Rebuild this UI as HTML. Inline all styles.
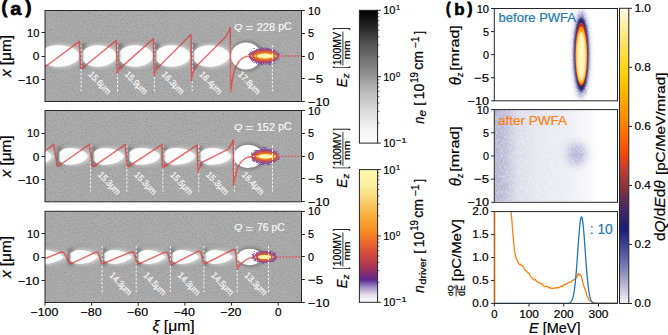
<!DOCTYPE html><html><head><meta charset="utf-8"><style>html,body{margin:0;padding:0;background:#fff;overflow:hidden}svg{display:block}text{font-family:"Liberation Sans",sans-serif}</style></head><body><svg width="668" height="335" viewBox="0 0 668 335" font-family="Liberation Sans, sans-serif">
<defs>
<filter id="noise" x="0" y="0" width="100%" height="100%"><feTurbulence type="fractalNoise" baseFrequency="0.65" numOctaves="1" seed="7" result="n"/><feColorMatrix in="n" type="matrix" values="2 0 0 0 -0.5  2 0 0 0 -0.5  2 0 0 0 -0.5  0 0 0 0 1"/><feComposite in2="SourceGraphic" operator="in"/></filter>
<filter id="b0_4" x="-60%" y="-60%" width="220%" height="220%"><feGaussianBlur stdDeviation="0.4"/></filter>
<filter id="b0_6" x="-60%" y="-60%" width="220%" height="220%"><feGaussianBlur stdDeviation="0.6"/></filter>
<filter id="b0_8" x="-60%" y="-60%" width="220%" height="220%"><feGaussianBlur stdDeviation="0.8"/></filter>
<filter id="b1_0" x="-60%" y="-60%" width="220%" height="220%"><feGaussianBlur stdDeviation="1.0"/></filter>
<filter id="b1_2" x="-60%" y="-60%" width="220%" height="220%"><feGaussianBlur stdDeviation="1.2"/></filter>
<filter id="b1_6" x="-60%" y="-60%" width="220%" height="220%"><feGaussianBlur stdDeviation="1.6"/></filter>
<filter id="b2_0" x="-60%" y="-60%" width="220%" height="220%"><feGaussianBlur stdDeviation="2.0"/></filter>
<filter id="b2_5" x="-60%" y="-60%" width="220%" height="220%"><feGaussianBlur stdDeviation="2.5"/></filter>
<filter id="b3_0" x="-60%" y="-60%" width="220%" height="220%"><feGaussianBlur stdDeviation="3.0"/></filter>
<filter id="b4_0" x="-60%" y="-60%" width="220%" height="220%"><feGaussianBlur stdDeviation="4.0"/></filter>
<filter id="spiky" x="-30%" y="-60%" width="160%" height="220%"><feTurbulence type="turbulence" baseFrequency="0.9" numOctaves="2" seed="5" result="t"/><feDisplacementMap in="SourceGraphic" in2="t" scale="4.5" xChannelSelector="R" yChannelSelector="G" result="d"/><feGaussianBlur in="d" stdDeviation="0.5"/></filter>
<clipPath id="clipa0"><rect x="45.0" y="10.5" width="256.5" height="91.2"/></clipPath>
<clipPath id="clipb0"><rect x="494.3" y="8.5" width="123.19999999999999" height="92.0"/></clipPath>
<clipPath id="clipa1"><rect x="45.0" y="110.5" width="256.5" height="91.2"/></clipPath>
<clipPath id="clipb1"><rect x="494.3" y="109.6" width="123.19999999999999" height="92.0"/></clipPath>
<clipPath id="clipa2"><rect x="45.0" y="211.3" width="256.5" height="91.2"/></clipPath>
<clipPath id="clipb2"><rect x="494.3" y="211.6" width="123.19999999999999" height="92.0"/></clipPath>
<radialGradient id="bub" cx="0.42" cy="0.5" r="0.5" fx="0.35" fy="0.5"><stop offset="0" stop-color="#ffffff"/><stop offset="0.55" stop-color="#fdfdfd"/><stop offset="0.8" stop-color="#eeeeee"/><stop offset="1" stop-color="#c8c8c8" stop-opacity="0"/></radialGradient>
</defs>
<rect width="668" height="335" fill="#fff"/>
<g clip-path="url(#clipa0)">
<rect x="45.0" y="10.5" width="256.5" height="91.0" fill="#a6a6a6"/>
<rect x="45.0" y="10.5" width="256.5" height="91.0" fill="#ffffff" filter="url(#noise)" opacity="0.10"/>
<path d="M39.0,56.0 C39.0,46.8 47.6,41.2 58.1,41.2 C71.0,41.2 81.5,49.3 81.5,56.0 C81.5,62.7 71.0,70.8 58.1,70.8 C47.6,70.8 39.0,65.2 39.0,56.0 Z" fill="#7e7e7e" filter="url(#b2_0)" opacity="0.5"/>
<ellipse cx="42.0" cy="47.3" rx="3" ry="4.1" fill="#505050" filter="url(#b1_6)" opacity="0.6"/>
<ellipse cx="42.0" cy="64.7" rx="3" ry="4.1" fill="#505050" filter="url(#b1_6)" opacity="0.6"/>
<path d="M80.5,56.0 C80.5,46.8 88.1,41.2 97.4,41.2 C108.7,41.2 118.0,49.3 118.0,56.0 C118.0,62.7 108.7,70.8 97.4,70.8 C88.1,70.8 80.5,65.2 80.5,56.0 Z" fill="#7e7e7e" filter="url(#b2_0)" opacity="0.5"/>
<ellipse cx="83.5" cy="47.3" rx="3" ry="4.1" fill="#505050" filter="url(#b1_6)" opacity="0.6"/>
<ellipse cx="83.5" cy="64.7" rx="3" ry="4.1" fill="#505050" filter="url(#b1_6)" opacity="0.6"/>
<path d="M117.5,56.0 C117.5,46.8 125.1,41.2 134.4,41.2 C145.7,41.2 155.0,49.3 155.0,56.0 C155.0,62.7 145.7,70.8 134.4,70.8 C125.1,70.8 117.5,65.2 117.5,56.0 Z" fill="#7e7e7e" filter="url(#b2_0)" opacity="0.5"/>
<ellipse cx="120.5" cy="47.3" rx="3" ry="4.1" fill="#505050" filter="url(#b1_6)" opacity="0.6"/>
<ellipse cx="120.5" cy="64.7" rx="3" ry="4.1" fill="#505050" filter="url(#b1_6)" opacity="0.6"/>
<path d="M154.0,56.0 C154.0,46.8 161.7,41.2 171.2,41.2 C182.7,41.2 192.2,49.3 192.2,56.0 C192.2,62.7 182.7,70.8 171.2,70.8 C161.7,70.8 154.0,65.2 154.0,56.0 Z" fill="#7e7e7e" filter="url(#b2_0)" opacity="0.5"/>
<ellipse cx="157.0" cy="47.3" rx="3" ry="4.1" fill="#505050" filter="url(#b1_6)" opacity="0.6"/>
<ellipse cx="157.0" cy="64.7" rx="3" ry="4.1" fill="#505050" filter="url(#b1_6)" opacity="0.6"/>
<path d="M191.5,56.0 C191.5,46.8 199.6,41.2 209.4,41.2 C221.4,41.2 231.3,49.3 231.3,56.0 C231.3,62.7 221.4,70.8 209.4,70.8 C199.6,70.8 191.5,65.2 191.5,56.0 Z" fill="#7e7e7e" filter="url(#b2_0)" opacity="0.5"/>
<ellipse cx="194.5" cy="47.3" rx="3" ry="4.1" fill="#505050" filter="url(#b1_6)" opacity="0.6"/>
<ellipse cx="194.5" cy="64.7" rx="3" ry="4.1" fill="#505050" filter="url(#b1_6)" opacity="0.6"/>
<ellipse cx="247.0" cy="56.0" rx="17.0" ry="15.5" fill="#6a6a6a" filter="url(#b1_6)" opacity="0.6"/>
<line x1="45.0" y1="56.0" x2="249" y2="56.0" stroke="#f0f0f0" stroke-width="1.1" stroke-dasharray="1.2,1.6" opacity="0.8"/>
<path d="M41.0,56.0 C41.0,48.4 49.4,43.8 59.7,43.8 C72.2,43.8 82.5,50.5 82.5,56.0 C82.5,61.5 72.2,68.2 59.7,68.2 C49.4,68.2 41.0,63.6 41.0,56.0 Z" fill="#e2e2e2" filter="url(#b2_5)"/>
<path d="M40.3,56.0 C40.3,49.4 48.3,45.3 58.0,45.3 C69.9,45.3 79.7,50.7 79.7,56.0 C79.7,61.3 69.9,66.7 58.0,66.7 C48.3,66.7 40.3,62.6 40.3,56.0 Z" fill="#fcfcfc" filter="url(#b1_1)"/>
<ellipse cx="39.8" cy="56.0" rx="1.5" ry="5.8" fill="#3a3a3a" filter="url(#b0_8)" opacity="0.65"/>
<path d="M82.5,56.0 C82.5,48.4 89.9,43.8 98.9,43.8 C110.0,43.8 119.0,50.5 119.0,56.0 C119.0,61.5 110.0,68.2 98.9,68.2 C89.9,68.2 82.5,63.6 82.5,56.0 Z" fill="#e2e2e2" filter="url(#b2_5)"/>
<path d="M81.8,56.0 C81.8,49.4 88.8,45.3 97.3,45.3 C107.7,45.3 116.2,50.7 116.2,56.0 C116.2,61.3 107.7,66.7 97.3,66.7 C88.8,66.7 81.8,62.6 81.8,56.0 Z" fill="#fcfcfc" filter="url(#b1_1)"/>
<ellipse cx="81.3" cy="56.0" rx="1.5" ry="5.8" fill="#3a3a3a" filter="url(#b0_8)" opacity="0.65"/>
<path d="M119.5,56.0 C119.5,48.4 126.9,43.8 135.9,43.8 C147.0,43.8 156.0,50.5 156.0,56.0 C156.0,61.5 147.0,68.2 135.9,68.2 C126.9,68.2 119.5,63.6 119.5,56.0 Z" fill="#e2e2e2" filter="url(#b2_5)"/>
<path d="M118.8,56.0 C118.8,49.4 125.8,45.3 134.3,45.3 C144.7,45.3 153.2,50.7 153.2,56.0 C153.2,61.3 144.7,66.7 134.3,66.7 C125.8,66.7 118.8,62.6 118.8,56.0 Z" fill="#fcfcfc" filter="url(#b1_1)"/>
<ellipse cx="118.3" cy="56.0" rx="1.5" ry="5.8" fill="#3a3a3a" filter="url(#b0_8)" opacity="0.65"/>
<path d="M156.0,56.0 C156.0,48.4 163.5,43.8 172.7,43.8 C184.0,43.8 193.2,50.5 193.2,56.0 C193.2,61.5 184.0,68.2 172.7,68.2 C163.5,68.2 156.0,63.6 156.0,56.0 Z" fill="#e2e2e2" filter="url(#b2_5)"/>
<path d="M155.3,56.0 C155.3,49.4 162.4,45.3 171.1,45.3 C181.7,45.3 190.4,50.7 190.4,56.0 C190.4,61.3 181.7,66.7 171.1,66.7 C162.4,66.7 155.3,62.6 155.3,56.0 Z" fill="#fcfcfc" filter="url(#b1_1)"/>
<ellipse cx="154.8" cy="56.0" rx="1.5" ry="5.8" fill="#3a3a3a" filter="url(#b0_8)" opacity="0.65"/>
<path d="M193.5,56.0 C193.5,48.4 201.4,43.8 211.0,43.8 C222.7,43.8 232.3,50.5 232.3,56.0 C232.3,61.5 222.7,68.2 211.0,68.2 C201.4,68.2 193.5,63.6 193.5,56.0 Z" fill="#e2e2e2" filter="url(#b2_5)"/>
<path d="M192.8,56.0 C192.8,49.4 200.2,45.3 209.3,45.3 C220.4,45.3 229.5,50.7 229.5,56.0 C229.5,61.3 220.4,66.7 209.3,66.7 C200.2,66.7 192.8,62.6 192.8,56.0 Z" fill="#fcfcfc" filter="url(#b1_1)"/>
<ellipse cx="192.3" cy="56.0" rx="1.5" ry="5.8" fill="#3a3a3a" filter="url(#b0_8)" opacity="0.65"/>
<ellipse cx="246.0" cy="56.0" rx="15.0" ry="13.5" fill="#ffffff" filter="url(#b0_6)"/>
<ellipse cx="262.8" cy="54.8" rx="15.0" ry="8.6" fill="#7a48a8" filter="url(#spiky)" opacity="0.85"/>
<ellipse cx="263.9" cy="56.0" rx="13.8" ry="6.2" fill="#c83c3c" filter="url(#b0_8)"/>
<ellipse cx="264.9" cy="56.0" rx="11.8" ry="4.3" fill="#f08a20" filter="url(#b0_8)"/>
<ellipse cx="265.0" cy="56.0" rx="8.0" ry="2.6" fill="#fcf2a0" filter="url(#b0_6)"/>
<line x1="251" y1="56.0" x2="277" y2="56.0" stroke="#fff" stroke-width="1.1" stroke-dasharray="1.5,2" opacity="0.9"/>
<line x1="278" y1="56.0" x2="301.5" y2="56.0" stroke="#e0505a" stroke-width="1.3" stroke-dasharray="2,1.2" opacity="0.85"/>
<line x1="81.1" y1="45.0" x2="81.1" y2="91.5" stroke="#f4f4f4" stroke-width="1" stroke-dasharray="2.4,1.6"/>
<line x1="117.5" y1="45.0" x2="117.5" y2="91.5" stroke="#f4f4f4" stroke-width="1" stroke-dasharray="2.4,1.6"/>
<line x1="154.4" y1="45.0" x2="154.4" y2="91.5" stroke="#f4f4f4" stroke-width="1" stroke-dasharray="2.4,1.6"/>
<line x1="192.2" y1="45.0" x2="192.2" y2="91.5" stroke="#f4f4f4" stroke-width="1" stroke-dasharray="2.4,1.6"/>
<line x1="230.6" y1="45.0" x2="230.6" y2="91.5" stroke="#f4f4f4" stroke-width="1" stroke-dasharray="2.4,1.6"/>
<line x1="272.4" y1="45.0" x2="272.4" y2="91.5" stroke="#f4f4f4" stroke-width="1" stroke-dasharray="2.4,1.6"/>
<text transform="translate(87.9,74.8) rotate(46) scale(0.93,1)" font-size="9.0" fill="#f4f4f4" stroke="#f4f4f4" stroke-width="0.25">15.6μm</text>
<text transform="translate(124.3,74.8) rotate(46) scale(0.93,1)" font-size="9.0" fill="#f4f4f4" stroke="#f4f4f4" stroke-width="0.25">15.9μm</text>
<text transform="translate(161.2,74.8) rotate(46) scale(0.93,1)" font-size="9.0" fill="#f4f4f4" stroke="#f4f4f4" stroke-width="0.25">16.3μm</text>
<text transform="translate(199.0,74.8) rotate(46) scale(0.93,1)" font-size="9.0" fill="#f4f4f4" stroke="#f4f4f4" stroke-width="0.25">16.4μm</text>
<text transform="translate(237.4,74.8) rotate(46) scale(0.93,1)" font-size="9.0" fill="#f4f4f4" stroke="#f4f4f4" stroke-width="0.25">17.8μm</text>
<path d="M44,67.6 L79.4,41.3 L80.6,68.2 L81.8,68.5 L116.4,40.3 L117.4,73.2 L118.60000000000001,69.6 L153.4,38.6 L154.3,76.0 L155.5,70.0 L191.0,34.5 L191.6,81.0 L192.8,73.0 L195.1,67.5 L225.8,36.7 L228.8,31.2 L230.3,27.7 L230.6,92.4 M230.9,90.4 C233.6,62.0 240.6,56.5 250,56.0" fill="none" stroke="#e03434" stroke-width="1.5" stroke-linejoin="round" opacity="0.7"/>
<text transform="translate(234.00,29.51) scale(1.141,1)" x="-0.00" y="0" font-size="9.44" font-weight="normal" font-style="italic" fill="#f6f6f6" stroke="#f6f6f6" stroke-width="0.2" >Q</text>
<rect x="245.9" y="26.10" width="6.9" height="0.95" fill="#f6f6f6"/><rect x="245.9" y="28.90" width="6.9" height="0.95" fill="#f6f6f6"/>
<text transform="translate(256.70,30.69) scale(0.985,1)" x="-0.00" y="0" font-size="11.13" font-weight="normal" font-style="normal" fill="#f6f6f6" stroke="#f6f6f6" stroke-width="0.2" >228</text>
<text transform="translate(278.20,30.36) scale(0.997,1)" x="-0.00" y="0" font-size="10.66" font-weight="normal" font-style="normal" fill="#f6f6f6" stroke="#f6f6f6" stroke-width="0.2" >pC</text>
</g>
<rect x="45.00" y="10.50" width="256.50" height="91.00" fill="none" stroke="#262626" stroke-width="1"/>
<line x1="41.60" y1="32.50" x2="45.00" y2="32.50" stroke="#262626" stroke-width="1"/>
<text transform="translate(27.10,36.84) scale(0.965,1)" x="-0.00" y="0" font-size="11.48" font-weight="normal" font-style="normal" fill="#000" stroke="#000" stroke-width="0.2" >10</text>
<line x1="41.60" y1="56.50" x2="45.00" y2="56.50" stroke="#262626" stroke-width="1"/>
<text transform="translate(32.80,60.24) scale(1.036,1)" x="-0.00" y="0" font-size="11.48" font-weight="normal" font-style="normal" fill="#000" stroke="#000" stroke-width="0.2" >0</text>
<line x1="41.60" y1="79.50" x2="45.00" y2="79.50" stroke="#262626" stroke-width="1"/>
<text transform="translate(17.90,83.64) scale(1.105,1)" x="-0.00" y="0" font-size="11.48" font-weight="normal" font-style="normal" fill="#000" stroke="#000" stroke-width="0.2" >−10</text>
<line x1="301.50" y1="10.50" x2="304.90" y2="10.50" stroke="#262626" stroke-width="1"/>
<text transform="translate(308.10,14.64) scale(0.965,1)" x="-0.00" y="0" font-size="11.48" font-weight="normal" font-style="normal" fill="#000" stroke="#000" stroke-width="0.2" >10</text>
<line x1="301.50" y1="33.50" x2="304.90" y2="33.50" stroke="#262626" stroke-width="1"/>
<text transform="translate(308.10,37.38) scale(0.929,1)" x="-0.00" y="0" font-size="11.64" font-weight="normal" font-style="normal" fill="#000" stroke="#000" stroke-width="0.2" >5</text>
<line x1="301.50" y1="56.50" x2="304.90" y2="56.50" stroke="#262626" stroke-width="1"/>
<text transform="translate(308.10,60.14) scale(0.942,1)" x="-0.00" y="0" font-size="11.48" font-weight="normal" font-style="normal" fill="#000" stroke="#000" stroke-width="0.2" >0</text>
<line x1="301.50" y1="78.50" x2="304.90" y2="78.50" stroke="#262626" stroke-width="1"/>
<text transform="translate(308.10,82.88) scale(1.138,1)" x="-0.00" y="0" font-size="11.64" font-weight="normal" font-style="normal" fill="#000" stroke="#000" stroke-width="0.2" >−5</text>
<line x1="301.50" y1="101.50" x2="304.90" y2="101.50" stroke="#262626" stroke-width="1"/>
<text transform="translate(308.10,105.64) scale(1.100,1)" x="-0.00" y="0" font-size="11.48" font-weight="normal" font-style="normal" fill="#000" stroke="#000" stroke-width="0.2" >−10</text>
<text transform="translate(11.00,77.80) rotate(-90) scale(1.098,1)" x="0.63" y="0" font-size="14.00" fill="#000" stroke="#000" stroke-width="0.2" ><tspan font-style="italic" font-size="14.00" dy="0.00">x</tspan><tspan font-style="normal" font-size="14.00" dy="0.00"> [μm]</tspan></text>
<text transform="translate(346.50,87.30) rotate(-90) scale(0.904,1)" x="-0.00" y="0" font-size="14.64" font-weight="normal" font-style="italic" fill="#000" stroke="#000" stroke-width="0.2" >E</text>
<text transform="translate(349.30,78.30) rotate(-90) scale(1.084,1)" x="0.09" y="0" font-size="8.68" font-weight="normal" font-style="italic" fill="#000" stroke="#000" stroke-width="0.2" >z</text>
<text transform="translate(346.35,68.40) rotate(-90) scale(0.400,1)" x="-0.00" y="0" font-size="17.86" font-weight="normal" font-style="normal" fill="#000" stroke="#000" stroke-width="0.2" >[</text>
<text transform="translate(346.35,29.80) rotate(-90) scale(0.400,1)" x="-0.00" y="0" font-size="17.86" font-weight="normal" font-style="normal" fill="#000" stroke="#000" stroke-width="0.2" >]</text>
<text transform="translate(340.50,65.20) rotate(-90) scale(1.033,1)" x="-0.00" y="0" font-size="10.14" font-weight="normal" font-style="normal" fill="#000" stroke="#000" stroke-width="0.2" >100MV</text>
<text transform="translate(349.80,59.50) rotate(-90) scale(1.221,1)" x="-0.00" y="0" font-size="9.44" font-weight="normal" font-style="normal" fill="#000" stroke="#000" stroke-width="0.2" >mm</text>
<line x1="342.90" y1="31.50" x2="342.90" y2="65.50" stroke="#000" stroke-width="0.8"/>
<g clip-path="url(#clipa1)">
<rect x="45.0" y="110.5" width="256.5" height="91.30000000000001" fill="#a6a6a6"/>
<rect x="45.0" y="110.5" width="256.5" height="91.30000000000001" fill="#ffffff" filter="url(#noise)" opacity="0.10"/>
<path d="M24.0,156.4 C24.0,148.8 29.5,144.2 36.2,144.2 C46.3,144.2 54.5,152.7 54.5,156.4 C54.5,160.1 46.3,168.6 36.2,168.6 C29.5,168.6 24.0,164.0 24.0,156.4 Z" fill="#7e7e7e" filter="url(#b2_0)" opacity="0.5"/>
<ellipse cx="27.0" cy="149.7" rx="3" ry="3.1" fill="#505050" filter="url(#b1_6)" opacity="0.6"/>
<ellipse cx="27.0" cy="163.2" rx="3" ry="3.1" fill="#505050" filter="url(#b1_6)" opacity="0.6"/>
<path d="M57.0,156.4 C57.0,148.8 63.0,144.2 70.4,144.2 C81.5,144.2 90.5,152.7 90.5,156.4 C90.5,160.1 81.5,168.6 70.4,168.6 C63.0,168.6 57.0,164.0 57.0,156.4 Z" fill="#7e7e7e" filter="url(#b2_0)" opacity="0.5"/>
<ellipse cx="60.0" cy="149.7" rx="3" ry="3.1" fill="#505050" filter="url(#b1_6)" opacity="0.6"/>
<ellipse cx="60.0" cy="163.2" rx="3" ry="3.1" fill="#505050" filter="url(#b1_6)" opacity="0.6"/>
<path d="M91.5,156.4 C91.5,148.8 97.8,144.2 105.5,144.2 C117.0,144.2 126.5,152.7 126.5,156.4 C126.5,160.1 117.0,168.6 105.5,168.6 C97.8,168.6 91.5,164.0 91.5,156.4 Z" fill="#7e7e7e" filter="url(#b2_0)" opacity="0.5"/>
<ellipse cx="94.5" cy="149.7" rx="3" ry="3.1" fill="#505050" filter="url(#b1_6)" opacity="0.6"/>
<ellipse cx="94.5" cy="163.2" rx="3" ry="3.1" fill="#505050" filter="url(#b1_6)" opacity="0.6"/>
<path d="M127.0,156.4 C127.0,148.8 133.5,144.2 141.4,144.2 C153.3,144.2 163.0,152.7 163.0,156.4 C163.0,160.1 153.3,168.6 141.4,168.6 C133.5,168.6 127.0,164.0 127.0,156.4 Z" fill="#7e7e7e" filter="url(#b2_0)" opacity="0.5"/>
<ellipse cx="130.0" cy="149.7" rx="3" ry="3.1" fill="#505050" filter="url(#b1_6)" opacity="0.6"/>
<ellipse cx="130.0" cy="163.2" rx="3" ry="3.1" fill="#505050" filter="url(#b1_6)" opacity="0.6"/>
<path d="M162.0,156.4 C162.0,148.8 168.5,144.2 176.4,144.2 C188.3,144.2 198.0,152.7 198.0,156.4 C198.0,160.1 188.3,168.6 176.4,168.6 C168.5,168.6 162.0,164.0 162.0,156.4 Z" fill="#7e7e7e" filter="url(#b2_0)" opacity="0.5"/>
<ellipse cx="165.0" cy="149.7" rx="3" ry="3.1" fill="#505050" filter="url(#b1_6)" opacity="0.6"/>
<ellipse cx="165.0" cy="163.2" rx="3" ry="3.1" fill="#505050" filter="url(#b1_6)" opacity="0.6"/>
<path d="M198.0,156.4 C198.0,148.8 204.5,144.2 212.4,144.2 C224.3,144.2 234.0,152.7 234.0,156.4 C234.0,160.1 224.3,168.6 212.4,168.6 C204.5,168.6 198.0,164.0 198.0,156.4 Z" fill="#7e7e7e" filter="url(#b2_0)" opacity="0.5"/>
<ellipse cx="201.0" cy="149.7" rx="3" ry="3.1" fill="#505050" filter="url(#b1_6)" opacity="0.6"/>
<ellipse cx="201.0" cy="163.2" rx="3" ry="3.1" fill="#505050" filter="url(#b1_6)" opacity="0.6"/>
<ellipse cx="249.3" cy="156.4" rx="16.7" ry="13.6" fill="#6a6a6a" filter="url(#b1_6)" opacity="0.6"/>
<line x1="45.0" y1="156.4" x2="251" y2="156.4" stroke="#f0f0f0" stroke-width="1.1" stroke-dasharray="1.2,1.6" opacity="0.8"/>
<path d="M26.0,156.4 C26.0,150.5 31.3,147.0 37.8,147.0 C47.5,147.0 55.5,153.6 55.5,156.4 C55.5,159.2 47.5,165.8 37.8,165.8 C31.3,165.8 26.0,162.3 26.0,156.4 Z" fill="#e2e2e2" filter="url(#b2_5)"/>
<path d="M25.3,156.4 C25.3,151.3 29.8,148.1 35.3,148.1 C44.2,148.1 51.5,153.1 51.5,156.4 C51.5,159.7 44.2,164.7 35.3,164.7 C29.8,164.7 25.3,161.5 25.3,156.4 Z" fill="#fcfcfc" filter="url(#b1_1)"/>
<ellipse cx="24.8" cy="156.4" rx="1.5" ry="4.5" fill="#3a3a3a" filter="url(#b0_8)" opacity="0.65"/>
<path d="M59.0,156.4 C59.0,150.5 64.8,147.0 72.0,147.0 C82.7,147.0 91.5,153.6 91.5,156.4 C91.5,159.2 82.7,165.8 72.0,165.8 C64.8,165.8 59.0,162.3 59.0,156.4 Z" fill="#e2e2e2" filter="url(#b2_5)"/>
<path d="M58.3,156.4 C58.3,151.3 63.3,148.1 69.4,148.1 C79.4,148.1 87.5,153.1 87.5,156.4 C87.5,159.7 79.4,164.7 69.4,164.7 C63.3,164.7 58.3,161.5 58.3,156.4 Z" fill="#fcfcfc" filter="url(#b1_1)"/>
<ellipse cx="57.8" cy="156.4" rx="1.5" ry="4.5" fill="#3a3a3a" filter="url(#b0_8)" opacity="0.65"/>
<path d="M93.5,156.4 C93.5,150.5 99.6,147.0 107.1,147.0 C118.3,147.0 127.5,153.6 127.5,156.4 C127.5,159.2 118.3,165.8 107.1,165.8 C99.6,165.8 93.5,162.3 93.5,156.4 Z" fill="#e2e2e2" filter="url(#b2_5)"/>
<path d="M92.8,156.4 C92.8,151.3 98.0,148.1 104.5,148.1 C114.9,148.1 123.5,153.1 123.5,156.4 C123.5,159.7 114.9,164.7 104.5,164.7 C98.0,164.7 92.8,161.5 92.8,156.4 Z" fill="#fcfcfc" filter="url(#b1_1)"/>
<ellipse cx="92.3" cy="156.4" rx="1.5" ry="4.5" fill="#3a3a3a" filter="url(#b0_8)" opacity="0.65"/>
<path d="M129.0,156.4 C129.0,150.5 135.3,147.0 143.0,147.0 C154.6,147.0 164.0,153.6 164.0,156.4 C164.0,159.2 154.6,165.8 143.0,165.8 C135.3,165.8 129.0,162.3 129.0,156.4 Z" fill="#e2e2e2" filter="url(#b2_5)"/>
<path d="M128.3,156.4 C128.3,151.3 133.7,148.1 140.3,148.1 C151.2,148.1 160.0,153.1 160.0,156.4 C160.0,159.7 151.2,164.7 140.3,164.7 C133.7,164.7 128.3,161.5 128.3,156.4 Z" fill="#fcfcfc" filter="url(#b1_1)"/>
<ellipse cx="127.8" cy="156.4" rx="1.5" ry="4.5" fill="#3a3a3a" filter="url(#b0_8)" opacity="0.65"/>
<path d="M164.0,156.4 C164.0,150.5 170.3,147.0 178.0,147.0 C189.6,147.0 199.0,153.6 199.0,156.4 C199.0,159.2 189.6,165.8 178.0,165.8 C170.3,165.8 164.0,162.3 164.0,156.4 Z" fill="#e2e2e2" filter="url(#b2_5)"/>
<path d="M163.3,156.4 C163.3,151.3 168.7,148.1 175.3,148.1 C186.2,148.1 195.0,153.1 195.0,156.4 C195.0,159.7 186.2,164.7 175.3,164.7 C168.7,164.7 163.3,161.5 163.3,156.4 Z" fill="#fcfcfc" filter="url(#b1_1)"/>
<ellipse cx="162.8" cy="156.4" rx="1.5" ry="4.5" fill="#3a3a3a" filter="url(#b0_8)" opacity="0.65"/>
<path d="M200.0,156.4 C200.0,150.5 206.3,147.0 214.0,147.0 C225.6,147.0 235.0,153.6 235.0,156.4 C235.0,159.2 225.6,165.8 214.0,165.8 C206.3,165.8 200.0,162.3 200.0,156.4 Z" fill="#e2e2e2" filter="url(#b2_5)"/>
<path d="M199.3,156.4 C199.3,151.3 204.7,148.1 211.3,148.1 C222.2,148.1 231.0,153.1 231.0,156.4 C231.0,159.7 222.2,164.7 211.3,164.7 C204.7,164.7 199.3,161.5 199.3,156.4 Z" fill="#fcfcfc" filter="url(#b1_1)"/>
<ellipse cx="198.8" cy="156.4" rx="1.5" ry="4.5" fill="#3a3a3a" filter="url(#b0_8)" opacity="0.65"/>
<ellipse cx="248.3" cy="156.4" rx="14.7" ry="11.6" fill="#ffffff" filter="url(#b0_6)"/>
<ellipse cx="263.8" cy="155.2" rx="14.0" ry="8.2" fill="#7a48a8" filter="url(#spiky)" opacity="0.85"/>
<ellipse cx="265.0" cy="156.4" rx="13.0" ry="5.6" fill="#c83c3c" filter="url(#b0_8)"/>
<ellipse cx="266.0" cy="156.4" rx="11.0" ry="3.9" fill="#f08a20" filter="url(#b0_8)"/>
<ellipse cx="265.5" cy="156.4" rx="7.5" ry="2.4" fill="#fcf2a0" filter="url(#b0_6)"/>
<line x1="253" y1="156.4" x2="277" y2="156.4" stroke="#fff" stroke-width="1.1" stroke-dasharray="1.5,2" opacity="0.9"/>
<line x1="278" y1="156.4" x2="301.5" y2="156.4" stroke="#e0505a" stroke-width="1.3" stroke-dasharray="2,1.2" opacity="0.85"/>
<line x1="90.6" y1="145.4" x2="90.6" y2="191.5" stroke="#f4f4f4" stroke-width="1" stroke-dasharray="2.4,1.6"/>
<line x1="126.9" y1="145.4" x2="126.9" y2="191.5" stroke="#f4f4f4" stroke-width="1" stroke-dasharray="2.4,1.6"/>
<line x1="162.9" y1="145.4" x2="162.9" y2="191.5" stroke="#f4f4f4" stroke-width="1" stroke-dasharray="2.4,1.6"/>
<line x1="198.8" y1="145.4" x2="198.8" y2="191.5" stroke="#f4f4f4" stroke-width="1" stroke-dasharray="2.4,1.6"/>
<line x1="234.4" y1="145.4" x2="234.4" y2="191.5" stroke="#f4f4f4" stroke-width="1" stroke-dasharray="2.4,1.6"/>
<line x1="272.5" y1="145.4" x2="272.5" y2="191.5" stroke="#f4f4f4" stroke-width="1" stroke-dasharray="2.4,1.6"/>
<text transform="translate(97.4,175.2) rotate(46) scale(0.93,1)" font-size="9.0" fill="#f4f4f4" stroke="#f4f4f4" stroke-width="0.25">15.3μm</text>
<text transform="translate(133.7,175.2) rotate(46) scale(0.93,1)" font-size="9.0" fill="#f4f4f4" stroke="#f4f4f4" stroke-width="0.25">15.3μm</text>
<text transform="translate(169.7,175.2) rotate(46) scale(0.93,1)" font-size="9.0" fill="#f4f4f4" stroke="#f4f4f4" stroke-width="0.25">15.5μm</text>
<text transform="translate(205.6,175.2) rotate(46) scale(0.93,1)" font-size="9.0" fill="#f4f4f4" stroke="#f4f4f4" stroke-width="0.25">15.3μm</text>
<text transform="translate(241.2,175.2) rotate(46) scale(0.93,1)" font-size="9.0" fill="#f4f4f4" stroke="#f4f4f4" stroke-width="0.25">16.4μm</text>
<path d="M44,151.9 L53.7,144.4 L57.2,166.0 L58.400000000000006,166.0 L89.5,144.4 L92.1,166.6 L93.3,166.6 L125.3,144.7 L127.3,166.5 L128.5,166.5 L162.2,144.3 L162.6,167.6 L163.79999999999998,167.0 L197.1,145.2 L198.2,172.1 L199.4,168.0 L201.7,162.5 L228.8,148.9 L231.8,143.4 L233.3,139.9 L233.6,186.5 M233.9,184.5 C236.6,162.4 243.6,156.9 252,156.4" fill="none" stroke="#e03434" stroke-width="1.5" stroke-linejoin="round" opacity="0.7"/>
<text transform="translate(234.00,129.51) scale(1.141,1)" x="-0.00" y="0" font-size="9.44" font-weight="normal" font-style="italic" fill="#f6f6f6" stroke="#f6f6f6" stroke-width="0.2" >Q</text>
<rect x="245.9" y="126.10" width="6.9" height="0.95" fill="#f6f6f6"/><rect x="245.9" y="128.90" width="6.9" height="0.95" fill="#f6f6f6"/>
<text transform="translate(256.70,130.69) scale(0.985,1)" x="-0.00" y="0" font-size="11.13" font-weight="normal" font-style="normal" fill="#f6f6f6" stroke="#f6f6f6" stroke-width="0.2" >152</text>
<text transform="translate(278.20,130.36) scale(0.997,1)" x="-0.00" y="0" font-size="10.66" font-weight="normal" font-style="normal" fill="#f6f6f6" stroke="#f6f6f6" stroke-width="0.2" >pC</text>
</g>
<rect x="45.00" y="110.50" width="256.50" height="91.30" fill="none" stroke="#262626" stroke-width="1"/>
<line x1="41.60" y1="133.50" x2="45.00" y2="133.50" stroke="#262626" stroke-width="1"/>
<text transform="translate(27.10,137.24) scale(0.965,1)" x="-0.00" y="0" font-size="11.48" font-weight="normal" font-style="normal" fill="#000" stroke="#000" stroke-width="0.2" >10</text>
<line x1="41.60" y1="156.50" x2="45.00" y2="156.50" stroke="#262626" stroke-width="1"/>
<text transform="translate(32.80,160.64) scale(1.036,1)" x="-0.00" y="0" font-size="11.48" font-weight="normal" font-style="normal" fill="#000" stroke="#000" stroke-width="0.2" >0</text>
<line x1="41.60" y1="179.50" x2="45.00" y2="179.50" stroke="#262626" stroke-width="1"/>
<text transform="translate(17.90,184.04) scale(1.105,1)" x="-0.00" y="0" font-size="11.48" font-weight="normal" font-style="normal" fill="#000" stroke="#000" stroke-width="0.2" >−10</text>
<line x1="301.50" y1="110.50" x2="304.90" y2="110.50" stroke="#262626" stroke-width="1"/>
<text transform="translate(308.10,114.64) scale(0.965,1)" x="-0.00" y="0" font-size="11.48" font-weight="normal" font-style="normal" fill="#000" stroke="#000" stroke-width="0.2" >10</text>
<line x1="301.50" y1="133.50" x2="304.90" y2="133.50" stroke="#262626" stroke-width="1"/>
<text transform="translate(308.10,137.46) scale(0.929,1)" x="-0.00" y="0" font-size="11.64" font-weight="normal" font-style="normal" fill="#000" stroke="#000" stroke-width="0.2" >5</text>
<line x1="301.50" y1="156.50" x2="304.90" y2="156.50" stroke="#262626" stroke-width="1"/>
<text transform="translate(308.10,160.29) scale(0.942,1)" x="-0.00" y="0" font-size="11.48" font-weight="normal" font-style="normal" fill="#000" stroke="#000" stroke-width="0.2" >0</text>
<line x1="301.50" y1="178.50" x2="304.90" y2="178.50" stroke="#262626" stroke-width="1"/>
<text transform="translate(308.10,183.11) scale(1.138,1)" x="-0.00" y="0" font-size="11.64" font-weight="normal" font-style="normal" fill="#000" stroke="#000" stroke-width="0.2" >−5</text>
<line x1="301.50" y1="201.50" x2="304.90" y2="201.50" stroke="#262626" stroke-width="1"/>
<text transform="translate(308.10,205.94) scale(1.100,1)" x="-0.00" y="0" font-size="11.48" font-weight="normal" font-style="normal" fill="#000" stroke="#000" stroke-width="0.2" >−10</text>
<text transform="translate(11.00,178.20) rotate(-90) scale(1.098,1)" x="0.63" y="0" font-size="14.00" fill="#000" stroke="#000" stroke-width="0.2" ><tspan font-style="italic" font-size="14.00" dy="0.00">x</tspan><tspan font-style="normal" font-size="14.00" dy="0.00"> [μm]</tspan></text>
<text transform="translate(346.50,187.70) rotate(-90) scale(0.904,1)" x="-0.00" y="0" font-size="14.64" font-weight="normal" font-style="italic" fill="#000" stroke="#000" stroke-width="0.2" >E</text>
<text transform="translate(349.30,178.70) rotate(-90) scale(1.084,1)" x="0.09" y="0" font-size="8.68" font-weight="normal" font-style="italic" fill="#000" stroke="#000" stroke-width="0.2" >z</text>
<text transform="translate(346.35,168.80) rotate(-90) scale(0.400,1)" x="-0.00" y="0" font-size="17.86" font-weight="normal" font-style="normal" fill="#000" stroke="#000" stroke-width="0.2" >[</text>
<text transform="translate(346.35,130.20) rotate(-90) scale(0.400,1)" x="-0.00" y="0" font-size="17.86" font-weight="normal" font-style="normal" fill="#000" stroke="#000" stroke-width="0.2" >]</text>
<text transform="translate(340.50,165.60) rotate(-90) scale(1.033,1)" x="-0.00" y="0" font-size="10.14" font-weight="normal" font-style="normal" fill="#000" stroke="#000" stroke-width="0.2" >100MV</text>
<text transform="translate(349.80,159.90) rotate(-90) scale(1.221,1)" x="-0.00" y="0" font-size="9.44" font-weight="normal" font-style="normal" fill="#000" stroke="#000" stroke-width="0.2" >mm</text>
<line x1="342.90" y1="131.90" x2="342.90" y2="165.90" stroke="#000" stroke-width="0.8"/>
<g clip-path="url(#clipa2)">
<rect x="45.0" y="211.3" width="256.5" height="91.19999999999999" fill="#a6a6a6"/>
<rect x="45.0" y="211.3" width="256.5" height="91.19999999999999" fill="#ffffff" filter="url(#noise)" opacity="0.10"/>
<path d="M29.0,257.0 C29.0,250.5 35.2,246.2 42.9,246.2 C56.4,246.2 67.5,255.3 67.5,257.0 C67.5,258.7 56.4,267.8 42.9,267.8 C35.2,267.8 29.0,263.5 29.0,257.0 Z" fill="#7e7e7e" filter="url(#b2_0)" opacity="0.5"/>
<ellipse cx="32.0" cy="251.3" rx="3" ry="2.7" fill="#505050" filter="url(#b1_6)" opacity="0.6"/>
<ellipse cx="32.0" cy="262.7" rx="3" ry="2.7" fill="#505050" filter="url(#b1_6)" opacity="0.6"/>
<path d="M68.0,257.0 C68.0,250.5 73.4,246.2 80.1,246.2 C91.9,246.2 101.5,255.3 101.5,257.0 C101.5,258.7 91.9,267.8 80.1,267.8 C73.4,267.8 68.0,263.5 68.0,257.0 Z" fill="#7e7e7e" filter="url(#b2_0)" opacity="0.5"/>
<ellipse cx="71.0" cy="251.3" rx="3" ry="2.7" fill="#505050" filter="url(#b1_6)" opacity="0.6"/>
<ellipse cx="71.0" cy="262.7" rx="3" ry="2.7" fill="#505050" filter="url(#b1_6)" opacity="0.6"/>
<path d="M102.0,257.0 C102.0,250.5 107.4,246.2 114.1,246.2 C125.9,246.2 135.5,255.3 135.5,257.0 C135.5,258.7 125.9,267.8 114.1,267.8 C107.4,267.8 102.0,263.5 102.0,257.0 Z" fill="#7e7e7e" filter="url(#b2_0)" opacity="0.5"/>
<ellipse cx="105.0" cy="251.3" rx="3" ry="2.7" fill="#505050" filter="url(#b1_6)" opacity="0.6"/>
<ellipse cx="105.0" cy="262.7" rx="3" ry="2.7" fill="#505050" filter="url(#b1_6)" opacity="0.6"/>
<path d="M136.0,257.0 C136.0,250.5 141.3,246.2 147.9,246.2 C159.5,246.2 169.0,255.3 169.0,257.0 C169.0,258.7 159.5,267.8 147.9,267.8 C141.3,267.8 136.0,263.5 136.0,257.0 Z" fill="#7e7e7e" filter="url(#b2_0)" opacity="0.5"/>
<ellipse cx="139.0" cy="251.3" rx="3" ry="2.7" fill="#505050" filter="url(#b1_6)" opacity="0.6"/>
<ellipse cx="139.0" cy="262.7" rx="3" ry="2.7" fill="#505050" filter="url(#b1_6)" opacity="0.6"/>
<path d="M170.0,257.0 C170.0,250.5 175.3,246.2 181.7,246.2 C193.1,246.2 202.5,255.3 202.5,257.0 C202.5,258.7 193.1,267.8 181.7,267.8 C175.3,267.8 170.0,263.5 170.0,257.0 Z" fill="#7e7e7e" filter="url(#b2_0)" opacity="0.5"/>
<ellipse cx="173.0" cy="251.3" rx="3" ry="2.7" fill="#505050" filter="url(#b1_6)" opacity="0.6"/>
<ellipse cx="173.0" cy="262.7" rx="3" ry="2.7" fill="#505050" filter="url(#b1_6)" opacity="0.6"/>
<path d="M203.0,257.0 C203.0,250.5 208.4,246.2 215.1,246.2 C226.9,246.2 236.5,255.3 236.5,257.0 C236.5,258.7 226.9,267.8 215.1,267.8 C208.4,267.8 203.0,263.5 203.0,257.0 Z" fill="#7e7e7e" filter="url(#b2_0)" opacity="0.5"/>
<ellipse cx="206.0" cy="251.3" rx="3" ry="2.7" fill="#505050" filter="url(#b1_6)" opacity="0.6"/>
<ellipse cx="206.0" cy="262.7" rx="3" ry="2.7" fill="#505050" filter="url(#b1_6)" opacity="0.6"/>
<ellipse cx="250.8" cy="257.0" rx="14.2" ry="10.2" fill="#6a6a6a" filter="url(#b1_6)" opacity="0.6"/>
<line x1="45.0" y1="257.0" x2="252.8" y2="257.0" stroke="#f0f0f0" stroke-width="1.1" stroke-dasharray="1.2,1.6" opacity="0.8"/>
<path d="M31.0,257.0 C31.0,252.2 37.1,249.0 44.5,249.0 C57.7,249.0 68.5,255.7 68.5,257.0 C68.5,258.3 57.7,265.0 44.5,265.0 C37.1,265.0 31.0,261.8 31.0,257.0 Z" fill="#e2e2e2" filter="url(#b2_5)"/>
<path d="M30.3,257.0 C30.3,252.8 35.7,250.0 42.3,250.0 C53.9,250.0 63.5,255.5 63.5,257.0 C63.5,258.5 53.9,264.0 42.3,264.0 C35.7,264.0 30.3,261.2 30.3,257.0 Z" fill="#fcfcfc" filter="url(#b1_1)"/>
<ellipse cx="29.8" cy="257.0" rx="1.5" ry="3.8" fill="#3a3a3a" filter="url(#b0_8)" opacity="0.65"/>
<path d="M70.0,257.0 C70.0,252.2 75.3,249.0 81.7,249.0 C93.1,249.0 102.5,255.7 102.5,257.0 C102.5,258.3 93.1,265.0 81.7,265.0 C75.3,265.0 70.0,261.8 70.0,257.0 Z" fill="#e2e2e2" filter="url(#b2_5)"/>
<path d="M69.3,257.0 C69.3,252.8 73.9,250.0 79.5,250.0 C89.4,250.0 97.5,255.5 97.5,257.0 C97.5,258.5 89.4,264.0 79.5,264.0 C73.9,264.0 69.3,261.2 69.3,257.0 Z" fill="#fcfcfc" filter="url(#b1_1)"/>
<ellipse cx="68.8" cy="257.0" rx="1.5" ry="3.8" fill="#3a3a3a" filter="url(#b0_8)" opacity="0.65"/>
<path d="M104.0,257.0 C104.0,252.2 109.3,249.0 115.7,249.0 C127.1,249.0 136.5,255.7 136.5,257.0 C136.5,258.3 127.1,265.0 115.7,265.0 C109.3,265.0 104.0,261.8 104.0,257.0 Z" fill="#e2e2e2" filter="url(#b2_5)"/>
<path d="M103.3,257.0 C103.3,252.8 107.9,250.0 113.5,250.0 C123.4,250.0 131.5,255.5 131.5,257.0 C131.5,258.5 123.4,264.0 113.5,264.0 C107.9,264.0 103.3,261.2 103.3,257.0 Z" fill="#fcfcfc" filter="url(#b1_1)"/>
<ellipse cx="102.8" cy="257.0" rx="1.5" ry="3.8" fill="#3a3a3a" filter="url(#b0_8)" opacity="0.65"/>
<path d="M138.0,257.0 C138.0,252.2 143.2,249.0 149.5,249.0 C160.8,249.0 170.0,255.7 170.0,257.0 C170.0,258.3 160.8,265.0 149.5,265.0 C143.2,265.0 138.0,261.8 138.0,257.0 Z" fill="#e2e2e2" filter="url(#b2_5)"/>
<path d="M137.3,257.0 C137.3,252.8 141.8,250.0 147.3,250.0 C157.0,250.0 165.0,255.5 165.0,257.0 C165.0,258.5 157.0,264.0 147.3,264.0 C141.8,264.0 137.3,261.2 137.3,257.0 Z" fill="#fcfcfc" filter="url(#b1_1)"/>
<ellipse cx="136.8" cy="257.0" rx="1.5" ry="3.8" fill="#3a3a3a" filter="url(#b0_8)" opacity="0.65"/>
<path d="M172.0,257.0 C172.0,252.2 177.1,249.0 183.3,249.0 C194.4,249.0 203.5,255.7 203.5,257.0 C203.5,258.3 194.4,265.0 183.3,265.0 C177.1,265.0 172.0,261.8 172.0,257.0 Z" fill="#e2e2e2" filter="url(#b2_5)"/>
<path d="M171.3,257.0 C171.3,252.8 175.7,250.0 181.1,250.0 C190.7,250.0 198.5,255.5 198.5,257.0 C198.5,258.5 190.7,264.0 181.1,264.0 C175.7,264.0 171.3,261.2 171.3,257.0 Z" fill="#fcfcfc" filter="url(#b1_1)"/>
<ellipse cx="170.8" cy="257.0" rx="1.5" ry="3.8" fill="#3a3a3a" filter="url(#b0_8)" opacity="0.65"/>
<path d="M205.0,257.0 C205.0,252.2 210.3,249.0 216.7,249.0 C228.1,249.0 237.5,255.7 237.5,257.0 C237.5,258.3 228.1,265.0 216.7,265.0 C210.3,265.0 205.0,261.8 205.0,257.0 Z" fill="#e2e2e2" filter="url(#b2_5)"/>
<path d="M204.3,257.0 C204.3,252.8 208.9,250.0 214.5,250.0 C224.4,250.0 232.5,255.5 232.5,257.0 C232.5,258.5 224.4,264.0 214.5,264.0 C208.9,264.0 204.3,261.2 204.3,257.0 Z" fill="#fcfcfc" filter="url(#b1_1)"/>
<ellipse cx="203.8" cy="257.0" rx="1.5" ry="3.8" fill="#3a3a3a" filter="url(#b0_8)" opacity="0.65"/>
<ellipse cx="249.8" cy="257.0" rx="12.2" ry="8.2" fill="#ffffff" filter="url(#b0_6)"/>
<ellipse cx="263.7" cy="255.8" rx="12.1" ry="6.4" fill="#7a48a8" filter="url(#spiky)" opacity="0.85"/>
<ellipse cx="264.2" cy="257.0" rx="9.8" ry="4.4" fill="#c83c3c" filter="url(#b0_8)"/>
<ellipse cx="265.2" cy="257.0" rx="7.8" ry="3.1" fill="#f08a20" filter="url(#b0_8)"/>
<ellipse cx="264.5" cy="257.0" rx="6.5" ry="2.0" fill="#fcf2a0" filter="url(#b0_6)"/>
<line x1="254.8" y1="257.0" x2="275" y2="257.0" stroke="#fff" stroke-width="1.1" stroke-dasharray="1.5,2" opacity="0.9"/>
<line x1="276" y1="257.0" x2="301.5" y2="257.0" stroke="#e0505a" stroke-width="1.3" stroke-dasharray="2,1.2" opacity="0.85"/>
<line x1="102.1" y1="246.0" x2="102.1" y2="292.3" stroke="#f4f4f4" stroke-width="1" stroke-dasharray="2.4,1.6"/>
<line x1="136.2" y1="246.0" x2="136.2" y2="292.3" stroke="#f4f4f4" stroke-width="1" stroke-dasharray="2.4,1.6"/>
<line x1="170.4" y1="246.0" x2="170.4" y2="292.3" stroke="#f4f4f4" stroke-width="1" stroke-dasharray="2.4,1.6"/>
<line x1="203.9" y1="246.0" x2="203.9" y2="292.3" stroke="#f4f4f4" stroke-width="1" stroke-dasharray="2.4,1.6"/>
<line x1="237.2" y1="246.0" x2="237.2" y2="292.3" stroke="#f4f4f4" stroke-width="1" stroke-dasharray="2.4,1.6"/>
<line x1="268.5" y1="246.0" x2="268.5" y2="292.3" stroke="#f4f4f4" stroke-width="1" stroke-dasharray="2.4,1.6"/>
<text transform="translate(108.9,275.8) rotate(46) scale(0.93,1)" font-size="9.0" fill="#f4f4f4" stroke="#f4f4f4" stroke-width="0.25">14.3μm</text>
<text transform="translate(143.0,275.8) rotate(46) scale(0.93,1)" font-size="9.0" fill="#f4f4f4" stroke="#f4f4f4" stroke-width="0.25">14.5μm</text>
<text transform="translate(177.2,275.8) rotate(46) scale(0.93,1)" font-size="9.0" fill="#f4f4f4" stroke="#f4f4f4" stroke-width="0.25">14.3μm</text>
<text transform="translate(210.7,275.8) rotate(46) scale(0.93,1)" font-size="9.0" fill="#f4f4f4" stroke="#f4f4f4" stroke-width="0.25">14.5μm</text>
<text transform="translate(244.0,275.8) rotate(46) scale(0.93,1)" font-size="9.0" fill="#f4f4f4" stroke="#f4f4f4" stroke-width="0.25">13.3μm</text>
<path d="M44.00,259.00 L44.44,258.82 L45.04,258.58 L46.96,257.80 L60.24,252.40 L62.38,252.05 L63.27,252.37 L64.68,254.04 L68.22,260.86 L69.29,262.71 L69.73,263.27 L70.20,263.70 L70.40,263.70 L71.08,263.50 L71.81,263.23 L73.80,262.36 L95.00,252.54 L97.02,252.13 L97.77,252.48 L98.79,254.28 L100.61,260.62 L101.30,262.62 L101.62,263.24 L102.00,263.70 L102.20,263.70 L102.89,263.52 L103.63,263.27 L105.66,262.47 L130.34,252.23 L132.41,251.89 L133.20,252.25 L134.28,254.05 L136.52,260.95 L137.26,262.93 L137.60,263.54 L138.00,264.00 L138.20,264.00 L138.89,263.80 L139.61,263.54 L141.62,262.68 L164.28,252.42 L166.30,252.03 L167.05,252.38 L168.02,254.19 L169.98,261.51 L170.62,263.52 L170.93,264.14 L171.30,264.60 L171.50,264.60 L172.18,264.38 L172.89,264.09 L174.85,263.15 L197.45,251.65 L199.43,251.17 L200.16,251.50 L201.12,253.29 L203.08,260.61 L203.72,262.62 L204.03,263.24 L204.40,263.70 L204.60,263.70 L205.28,263.48 L205.99,263.19 L207.95,262.25 L232.45,249.85 L234.35,249.38 L234.98,249.73 L235.61,251.58 L237.09,266.82 L237.29,268.89 L237.35,269.52 L237.40,270.00 M237.70000000000002,268.0 C240.4,263.0 247.4,257.5 253.8,257.0" fill="none" stroke="#e03434" stroke-width="1.5" stroke-linejoin="round" opacity="0.7"/>
<text transform="translate(234.00,230.31) scale(1.141,1)" x="-0.00" y="0" font-size="9.44" font-weight="normal" font-style="italic" fill="#f6f6f6" stroke="#f6f6f6" stroke-width="0.2" >Q</text>
<rect x="245.9" y="226.90" width="6.9" height="0.95" fill="#f6f6f6"/><rect x="245.9" y="229.70" width="6.9" height="0.95" fill="#f6f6f6"/>
<text transform="translate(256.90,231.49) scale(0.939,1)" x="-0.00" y="0" font-size="11.13" font-weight="normal" font-style="normal" fill="#f6f6f6" stroke="#f6f6f6" stroke-width="0.2" >76</text>
<text transform="translate(271.50,231.16) scale(0.975,1)" x="-0.00" y="0" font-size="10.66" font-weight="normal" font-style="normal" fill="#f6f6f6" stroke="#f6f6f6" stroke-width="0.2" >pC</text>
</g>
<rect x="45.00" y="211.30" width="256.50" height="91.20" fill="none" stroke="#262626" stroke-width="1"/>
<line x1="41.60" y1="233.50" x2="45.00" y2="233.50" stroke="#262626" stroke-width="1"/>
<text transform="translate(27.10,237.84) scale(0.965,1)" x="-0.00" y="0" font-size="11.48" font-weight="normal" font-style="normal" fill="#000" stroke="#000" stroke-width="0.2" >10</text>
<line x1="41.60" y1="257.50" x2="45.00" y2="257.50" stroke="#262626" stroke-width="1"/>
<text transform="translate(32.80,261.24) scale(1.036,1)" x="-0.00" y="0" font-size="11.48" font-weight="normal" font-style="normal" fill="#000" stroke="#000" stroke-width="0.2" >0</text>
<line x1="41.60" y1="280.50" x2="45.00" y2="280.50" stroke="#262626" stroke-width="1"/>
<text transform="translate(17.90,284.64) scale(1.105,1)" x="-0.00" y="0" font-size="11.48" font-weight="normal" font-style="normal" fill="#000" stroke="#000" stroke-width="0.2" >−10</text>
<line x1="301.50" y1="211.50" x2="304.90" y2="211.50" stroke="#262626" stroke-width="1"/>
<text transform="translate(308.10,215.44) scale(0.965,1)" x="-0.00" y="0" font-size="11.48" font-weight="normal" font-style="normal" fill="#000" stroke="#000" stroke-width="0.2" >10</text>
<line x1="301.50" y1="234.50" x2="304.90" y2="234.50" stroke="#262626" stroke-width="1"/>
<text transform="translate(308.10,238.23) scale(0.929,1)" x="-0.00" y="0" font-size="11.64" font-weight="normal" font-style="normal" fill="#000" stroke="#000" stroke-width="0.2" >5</text>
<line x1="301.50" y1="256.50" x2="304.90" y2="256.50" stroke="#262626" stroke-width="1"/>
<text transform="translate(308.10,261.04) scale(0.942,1)" x="-0.00" y="0" font-size="11.48" font-weight="normal" font-style="normal" fill="#000" stroke="#000" stroke-width="0.2" >0</text>
<line x1="301.50" y1="279.50" x2="304.90" y2="279.50" stroke="#262626" stroke-width="1"/>
<text transform="translate(308.10,283.83) scale(1.138,1)" x="-0.00" y="0" font-size="11.64" font-weight="normal" font-style="normal" fill="#000" stroke="#000" stroke-width="0.2" >−5</text>
<line x1="301.50" y1="302.50" x2="304.90" y2="302.50" stroke="#262626" stroke-width="1"/>
<text transform="translate(308.10,306.64) scale(1.100,1)" x="-0.00" y="0" font-size="11.48" font-weight="normal" font-style="normal" fill="#000" stroke="#000" stroke-width="0.2" >−10</text>
<text transform="translate(11.00,278.80) rotate(-90) scale(1.098,1)" x="0.63" y="0" font-size="14.00" fill="#000" stroke="#000" stroke-width="0.2" ><tspan font-style="italic" font-size="14.00" dy="0.00">x</tspan><tspan font-style="normal" font-size="14.00" dy="0.00"> [μm]</tspan></text>
<text transform="translate(346.50,288.30) rotate(-90) scale(0.904,1)" x="-0.00" y="0" font-size="14.64" font-weight="normal" font-style="italic" fill="#000" stroke="#000" stroke-width="0.2" >E</text>
<text transform="translate(349.30,279.30) rotate(-90) scale(1.084,1)" x="0.09" y="0" font-size="8.68" font-weight="normal" font-style="italic" fill="#000" stroke="#000" stroke-width="0.2" >z</text>
<text transform="translate(346.35,269.40) rotate(-90) scale(0.400,1)" x="-0.00" y="0" font-size="17.86" font-weight="normal" font-style="normal" fill="#000" stroke="#000" stroke-width="0.2" >[</text>
<text transform="translate(346.35,230.80) rotate(-90) scale(0.400,1)" x="-0.00" y="0" font-size="17.86" font-weight="normal" font-style="normal" fill="#000" stroke="#000" stroke-width="0.2" >]</text>
<text transform="translate(340.50,266.20) rotate(-90) scale(1.033,1)" x="-0.00" y="0" font-size="10.14" font-weight="normal" font-style="normal" fill="#000" stroke="#000" stroke-width="0.2" >100MV</text>
<text transform="translate(349.80,260.50) rotate(-90) scale(1.221,1)" x="-0.00" y="0" font-size="9.44" font-weight="normal" font-style="normal" fill="#000" stroke="#000" stroke-width="0.2" >mm</text>
<line x1="342.90" y1="232.50" x2="342.90" y2="266.50" stroke="#000" stroke-width="0.8"/>
<line x1="45.00" y1="302.50" x2="45.00" y2="305.70" stroke="#262626" stroke-width="1"/>
<text transform="translate(30.50,316.49) scale(1.094,1)" x="-0.00" y="0" font-size="11.27" font-weight="normal" font-style="normal" fill="#000" stroke="#000" stroke-width="0.2" >−100</text>
<line x1="91.64" y1="302.50" x2="91.64" y2="305.70" stroke="#262626" stroke-width="1"/>
<text transform="translate(80.44,316.49) scale(1.110,1)" x="-0.00" y="0" font-size="11.27" font-weight="normal" font-style="normal" fill="#000" stroke="#000" stroke-width="0.2" >−80</text>
<line x1="138.27" y1="302.50" x2="138.27" y2="305.70" stroke="#262626" stroke-width="1"/>
<text transform="translate(127.07,316.49) scale(1.110,1)" x="-0.00" y="0" font-size="11.27" font-weight="normal" font-style="normal" fill="#000" stroke="#000" stroke-width="0.2" >−60</text>
<line x1="184.91" y1="302.50" x2="184.91" y2="305.70" stroke="#262626" stroke-width="1"/>
<text transform="translate(173.71,316.49) scale(1.110,1)" x="-0.00" y="0" font-size="11.27" font-weight="normal" font-style="normal" fill="#000" stroke="#000" stroke-width="0.2" >−40</text>
<line x1="231.55" y1="302.50" x2="231.55" y2="305.70" stroke="#262626" stroke-width="1"/>
<text transform="translate(220.35,316.49) scale(1.110,1)" x="-0.00" y="0" font-size="11.27" font-weight="normal" font-style="normal" fill="#000" stroke="#000" stroke-width="0.2" >−20</text>
<line x1="278.18" y1="302.50" x2="278.18" y2="305.70" stroke="#262626" stroke-width="1"/>
<text transform="translate(274.88,316.49) scale(1.055,1)" x="-0.00" y="0" font-size="11.27" font-weight="normal" font-style="normal" fill="#000" stroke="#000" stroke-width="0.2" >0</text>
<text transform="translate(152.50,331.00) scale(1.120,1)" x="-0.00" y="0" font-size="14.00" fill="#000" stroke="#000" stroke-width="0.2" ><tspan font-style="italic" font-size="14.00" dy="0.00">ξ</tspan><tspan font-style="normal" font-size="14.00" dy="0.00"> [μm]</tspan></text>
<defs><linearGradient id="ggrey" x1="0" y1="0" x2="0" y2="1"><stop offset="0.000" stop-color="#000000"/><stop offset="0.125" stop-color="#252525"/><stop offset="0.250" stop-color="#525252"/><stop offset="0.375" stop-color="#737373"/><stop offset="0.500" stop-color="#969696"/><stop offset="0.625" stop-color="#bdbdbd"/><stop offset="0.750" stop-color="#d9d9d9"/><stop offset="0.875" stop-color="#f0f0f0"/><stop offset="1.000" stop-color="#ffffff"/></linearGradient></defs>
<rect x="359.4" y="10.3" width="18.200000000000045" height="132.79999999999998" fill="url(#ggrey)" stroke="#262626" stroke-width="1"/>
<defs><linearGradient id="ginf" x1="0" y1="0" x2="0" y2="1"><stop offset="0.000" stop-color="rgb(252,250,172)"/><stop offset="0.120" stop-color="rgb(252,240,160)"/><stop offset="0.230" stop-color="rgb(248,208,112)"/><stop offset="0.340" stop-color="rgb(248,176,64)"/><stop offset="0.455" stop-color="rgb(248,144,32)"/><stop offset="0.570" stop-color="rgb(232,96,48)"/><stop offset="0.644" stop-color="rgb(208,72,64)"/><stop offset="0.720" stop-color="rgb(176,56,80)"/><stop offset="0.794" stop-color="rgb(122,42,120)"/><stop offset="0.832" stop-color="rgb(90,42,144)"/><stop offset="0.885" stop-color="rgb(160,144,200)"/><stop offset="0.945" stop-color="rgb(232,224,240)"/><stop offset="1.000" stop-color="rgb(255,255,255)"/></linearGradient></defs>
<rect x="359.4" y="169.6" width="18.200000000000045" height="132.70000000000002" fill="url(#ginf)" stroke="#262626" stroke-width="1"/>
<line x1="377.60" y1="10.30" x2="380.80" y2="10.30" stroke="#262626" stroke-width="1"/>
<line x1="377.60" y1="76.70" x2="380.80" y2="76.70" stroke="#262626" stroke-width="1"/>
<line x1="377.60" y1="143.10" x2="380.80" y2="143.10" stroke="#262626" stroke-width="1"/>
<line x1="377.60" y1="123.11" x2="379.40" y2="123.11" stroke="#262626" stroke-width="0.7"/>
<line x1="377.60" y1="111.42" x2="379.40" y2="111.42" stroke="#262626" stroke-width="0.7"/>
<line x1="377.60" y1="103.12" x2="379.40" y2="103.12" stroke="#262626" stroke-width="0.7"/>
<line x1="377.60" y1="96.69" x2="379.40" y2="96.69" stroke="#262626" stroke-width="0.7"/>
<line x1="377.60" y1="91.43" x2="379.40" y2="91.43" stroke="#262626" stroke-width="0.7"/>
<line x1="377.60" y1="86.99" x2="379.40" y2="86.99" stroke="#262626" stroke-width="0.7"/>
<line x1="377.60" y1="83.13" x2="379.40" y2="83.13" stroke="#262626" stroke-width="0.7"/>
<line x1="377.60" y1="79.74" x2="379.40" y2="79.74" stroke="#262626" stroke-width="0.7"/>
<line x1="377.60" y1="56.71" x2="379.40" y2="56.71" stroke="#262626" stroke-width="0.7"/>
<line x1="377.60" y1="45.02" x2="379.40" y2="45.02" stroke="#262626" stroke-width="0.7"/>
<line x1="377.60" y1="36.72" x2="379.40" y2="36.72" stroke="#262626" stroke-width="0.7"/>
<line x1="377.60" y1="30.29" x2="379.40" y2="30.29" stroke="#262626" stroke-width="0.7"/>
<line x1="377.60" y1="25.03" x2="379.40" y2="25.03" stroke="#262626" stroke-width="0.7"/>
<line x1="377.60" y1="20.59" x2="379.40" y2="20.59" stroke="#262626" stroke-width="0.7"/>
<line x1="377.60" y1="16.73" x2="379.40" y2="16.73" stroke="#262626" stroke-width="0.7"/>
<line x1="377.60" y1="13.34" x2="379.40" y2="13.34" stroke="#262626" stroke-width="0.7"/>
<text transform="translate(383.20,14.29) scale(0.983,1)" x="-0.00" y="0" font-size="11.27" font-weight="normal" font-style="normal" fill="#000" stroke="#000" stroke-width="0.2" >10</text>
<text transform="translate(396.00,10.20) scale(0.949,1)" x="-0.00" y="0" font-size="7.97" font-weight="normal" font-style="normal" fill="#000" stroke="#000" stroke-width="0.2" >1</text>
<text transform="translate(383.20,80.69) scale(0.983,1)" x="-0.00" y="0" font-size="11.27" font-weight="normal" font-style="normal" fill="#000" stroke="#000" stroke-width="0.2" >10</text>
<text transform="translate(396.00,76.52) scale(0.977,1)" x="-0.00" y="0" font-size="7.75" font-weight="normal" font-style="normal" fill="#000" stroke="#000" stroke-width="0.2" >0</text>
<text transform="translate(383.20,147.09) scale(0.983,1)" x="-0.00" y="0" font-size="11.27" font-weight="normal" font-style="normal" fill="#000" stroke="#000" stroke-width="0.2" >10</text>
<text transform="translate(396.00,143.00) scale(1.156,1)" x="-0.00" y="0" font-size="7.97" font-weight="normal" font-style="normal" fill="#000" stroke="#000" stroke-width="0.2" >−1</text>
<line x1="377.60" y1="169.60" x2="380.80" y2="169.60" stroke="#262626" stroke-width="1"/>
<line x1="377.60" y1="235.95" x2="380.80" y2="235.95" stroke="#262626" stroke-width="1"/>
<line x1="377.60" y1="302.30" x2="380.80" y2="302.30" stroke="#262626" stroke-width="1"/>
<line x1="377.60" y1="282.33" x2="379.40" y2="282.33" stroke="#262626" stroke-width="0.7"/>
<line x1="377.60" y1="270.64" x2="379.40" y2="270.64" stroke="#262626" stroke-width="0.7"/>
<line x1="377.60" y1="262.35" x2="379.40" y2="262.35" stroke="#262626" stroke-width="0.7"/>
<line x1="377.60" y1="255.92" x2="379.40" y2="255.92" stroke="#262626" stroke-width="0.7"/>
<line x1="377.60" y1="250.67" x2="379.40" y2="250.67" stroke="#262626" stroke-width="0.7"/>
<line x1="377.60" y1="246.23" x2="379.40" y2="246.23" stroke="#262626" stroke-width="0.7"/>
<line x1="377.60" y1="242.38" x2="379.40" y2="242.38" stroke="#262626" stroke-width="0.7"/>
<line x1="377.60" y1="238.99" x2="379.40" y2="238.99" stroke="#262626" stroke-width="0.7"/>
<line x1="377.60" y1="215.98" x2="379.40" y2="215.98" stroke="#262626" stroke-width="0.7"/>
<line x1="377.60" y1="204.29" x2="379.40" y2="204.29" stroke="#262626" stroke-width="0.7"/>
<line x1="377.60" y1="196.00" x2="379.40" y2="196.00" stroke="#262626" stroke-width="0.7"/>
<line x1="377.60" y1="189.57" x2="379.40" y2="189.57" stroke="#262626" stroke-width="0.7"/>
<line x1="377.60" y1="184.32" x2="379.40" y2="184.32" stroke="#262626" stroke-width="0.7"/>
<line x1="377.60" y1="179.88" x2="379.40" y2="179.88" stroke="#262626" stroke-width="0.7"/>
<line x1="377.60" y1="176.03" x2="379.40" y2="176.03" stroke="#262626" stroke-width="0.7"/>
<line x1="377.60" y1="172.64" x2="379.40" y2="172.64" stroke="#262626" stroke-width="0.7"/>
<text transform="translate(383.20,173.59) scale(0.983,1)" x="-0.00" y="0" font-size="11.27" font-weight="normal" font-style="normal" fill="#000" stroke="#000" stroke-width="0.2" >10</text>
<text transform="translate(396.00,169.50) scale(0.949,1)" x="-0.00" y="0" font-size="7.97" font-weight="normal" font-style="normal" fill="#000" stroke="#000" stroke-width="0.2" >1</text>
<text transform="translate(383.20,239.94) scale(0.983,1)" x="-0.00" y="0" font-size="11.27" font-weight="normal" font-style="normal" fill="#000" stroke="#000" stroke-width="0.2" >10</text>
<text transform="translate(396.00,235.77) scale(0.977,1)" x="-0.00" y="0" font-size="7.75" font-weight="normal" font-style="normal" fill="#000" stroke="#000" stroke-width="0.2" >0</text>
<text transform="translate(383.20,306.29) scale(0.983,1)" x="-0.00" y="0" font-size="11.27" font-weight="normal" font-style="normal" fill="#000" stroke="#000" stroke-width="0.2" >10</text>
<text transform="translate(396.00,302.20) scale(1.156,1)" x="-0.00" y="0" font-size="7.97" font-weight="normal" font-style="normal" fill="#000" stroke="#000" stroke-width="0.2" >−1</text>
<text transform="translate(422.81,105.60) rotate(-90) scale(0.916,1)" x="-0.00" y="0" font-size="13.26" font-weight="normal" font-style="normal" fill="#000" stroke="#000" stroke-width="0.2" >[</text>
<text transform="translate(424.05,99.30) rotate(-90) scale(0.935,1)" x="-0.00" y="0" font-size="14.93" font-weight="normal" font-style="normal" fill="#000" stroke="#000" stroke-width="0.2" >10</text>
<text transform="translate(417.90,82.80) rotate(-90) scale(0.933,1)" x="-0.00" y="0" font-size="10.14" font-weight="normal" font-style="normal" fill="#000" stroke="#000" stroke-width="0.2" >19</text>
<text transform="translate(423.36,69.70) rotate(-90) scale(1.019,1)" x="-0.00" y="0" font-size="13.82" font-weight="normal" font-style="normal" fill="#000" stroke="#000" stroke-width="0.2" >cm</text>
<text transform="translate(418.50,48.50) rotate(-90) scale(1.017,1)" x="-0.00" y="0" font-size="10.43" font-weight="normal" font-style="normal" fill="#000" stroke="#000" stroke-width="0.2" >−1</text>
<text transform="translate(422.77,33.90) rotate(-90) scale(0.795,1)" x="-0.00" y="0" font-size="13.48" font-weight="normal" font-style="normal" fill="#000" stroke="#000" stroke-width="0.2" >]</text>
<text transform="translate(424.20,123.70) rotate(-90) scale(0.897,1)" x="-0.00" y="0" font-size="14.26" font-weight="normal" font-style="italic" fill="#000" stroke="#000" stroke-width="0.2" >n</text>
<text transform="translate(425.99,116.60) rotate(-90) scale(1.071,1)" x="-0.00" y="0" font-size="11.27" font-weight="normal" font-style="italic" fill="#000" stroke="#000" stroke-width="0.2" >e</text>
<text transform="translate(422.81,253.60) rotate(-90) scale(0.916,1)" x="-0.00" y="0" font-size="13.26" font-weight="normal" font-style="normal" fill="#000" stroke="#000" stroke-width="0.2" >[</text>
<text transform="translate(424.05,247.30) rotate(-90) scale(0.935,1)" x="-0.00" y="0" font-size="14.93" font-weight="normal" font-style="normal" fill="#000" stroke="#000" stroke-width="0.2" >10</text>
<text transform="translate(417.90,230.80) rotate(-90) scale(0.933,1)" x="-0.00" y="0" font-size="10.14" font-weight="normal" font-style="normal" fill="#000" stroke="#000" stroke-width="0.2" >19</text>
<text transform="translate(423.36,217.70) rotate(-90) scale(1.019,1)" x="-0.00" y="0" font-size="13.82" font-weight="normal" font-style="normal" fill="#000" stroke="#000" stroke-width="0.2" >cm</text>
<text transform="translate(418.50,196.50) rotate(-90) scale(1.017,1)" x="-0.00" y="0" font-size="10.43" font-weight="normal" font-style="normal" fill="#000" stroke="#000" stroke-width="0.2" >−1</text>
<text transform="translate(422.77,181.90) rotate(-90) scale(0.795,1)" x="-0.00" y="0" font-size="13.48" font-weight="normal" font-style="normal" fill="#000" stroke="#000" stroke-width="0.2" >]</text>
<text transform="translate(426.01,284.40) rotate(-90) scale(1.199,1)" x="-0.00" y="0" font-size="8.84" font-weight="normal" font-style="normal" fill="#000" stroke="#000" stroke-width="0.2" >driver</text>
<text transform="translate(423.90,293.00) rotate(-90) scale(0.973,1)" x="-0.00" y="0" font-size="14.63" font-weight="normal" font-style="italic" fill="#000" stroke="#000" stroke-width="0.2" >n</text>
<g clip-path="url(#clipb0)"><rect x="494.3" y="8.5" width="123.19999999999999" height="92.0" fill="#fff"/>
<mask id="m1" maskUnits="userSpaceOnUse" x="494.3" y="8.5" width="123.19999999999999" height="92.0"><ellipse cx="581.3" cy="54.2" rx="7.6" ry="44" fill="#fff" filter="url(#b2_5)"/></mask>
<rect x="494.3" y="8.5" width="123.19999999999999" height="92.0" fill="#30308a" mask="url(#m1)" opacity="0.65"/>
<rect x="560" y="8.5" width="45" height="92.0" fill="#fff" filter="url(#speck)" opacity="0.85"/>
<ellipse cx="581.3" cy="54.2" rx="7.4" ry="37" fill="#22226e" filter="url(#b1_0)"/>
<ellipse cx="581.3" cy="54.5" rx="6.2" ry="32" fill="#c83020" filter="url(#b0_7)"/>
<ellipse cx="581.3" cy="55.400000000000006" rx="5.5" ry="29" fill="#ff9a00" filter="url(#b0_7)"/>
<ellipse cx="581.3" cy="56.400000000000006" rx="4.6" ry="25.0" fill="#fff6c0" filter="url(#b0_8)"/>
</g>
<rect x="494.30" y="8.50" width="123.20" height="92.30" fill="none" stroke="#262626" stroke-width="1"/>
<g clip-path="url(#clipb1)"><rect x="494.3" y="109.6" width="123.19999999999999" height="92.0" fill="#fff"/>
<defs><linearGradient id="dens" x1="0" y1="0" x2="1" y2="0"><stop offset="0" stop-color="#fff" stop-opacity="0.40"/><stop offset="0.09" stop-color="#fff" stop-opacity="0.34"/><stop offset="0.19" stop-color="#fff" stop-opacity="0.18"/><stop offset="0.35" stop-color="#fff" stop-opacity="0.13"/><stop offset="0.6" stop-color="#fff" stop-opacity="0.1"/><stop offset="0.76" stop-color="#fff" stop-opacity="0.04"/><stop offset="0.85" stop-color="#fff" stop-opacity="0"/></linearGradient><mask id="m2" maskUnits="userSpaceOnUse" x="494.3" y="109.6" width="123.19999999999999" height="92.0"><rect x="494.3" y="109.6" width="123.19999999999999" height="92.0" fill="url(#dens)"/><ellipse cx="577" cy="154" rx="9.5" ry="11" fill="#fff" fill-opacity="0.34" filter="url(#b4_0)"/></mask><filter id="speck" x="0" y="0" width="100%" height="100%"><feTurbulence type="fractalNoise" baseFrequency="1.8" numOctaves="1" seed="11" result="n"/><feColorMatrix in="n" type="matrix" values="0 0 0 0 1  0 0 0 0 1  0 0 0 0 1  2.4 0 0 0 -0.95"/><feComposite in2="SourceGraphic" operator="in"/></filter></defs>
<rect x="494.3" y="109.6" width="123.19999999999999" height="92.0" fill="#3a3a8e" mask="url(#m2)"/>
<rect x="494.3" y="109.6" width="123.19999999999999" height="92.0" fill="#fff" filter="url(#speck)" opacity="0.5"/>
</g>
<rect x="494.30" y="109.60" width="123.20" height="92.70" fill="none" stroke="#262626" stroke-width="1"/>
<g clip-path="url(#clipb2)">
<path d="M510.9,211.0 L511.1,212.5 L511.3,214.5 L511.5,216.9 L511.8,219.5 L512.0,222.0 L512.2,224.5 L512.4,227.1 L512.6,229.7 L512.8,232.4 L513.0,235.0 L513.2,237.7 L513.5,240.5 L513.7,243.2 L514.0,245.8 L514.2,248.0 L514.4,249.8 L514.6,251.3 L514.8,252.6 L515.1,253.8 L515.3,255.0 L515.5,256.2 L515.8,257.2 L516.1,257.7 L516.4,258.4 L516.7,259.8 L517.1,260.2 L517.5,260.8 L518.0,262.1 L518.5,263.6 L519.0,264.0 L519.5,264.5 L519.9,263.9 L520.4,264.9 L521.0,264.9 L521.7,265.3 L522.6,266.0 L523.5,267.1 L524.6,269.5 L525.7,270.4 L526.7,271.5 L527.7,272.6 L528.7,272.8 L529.6,274.3 L530.6,276.1 L531.7,277.4 L532.8,278.7 L534.0,279.8 L535.2,279.3 L536.4,281.1 L537.6,282.1 L538.8,282.6 L539.9,282.7 L541.0,283.9 L542.2,283.8 L543.4,285.9 L544.7,286.3 L545.9,286.3 L547.3,286.3 L548.6,287.8 L550.1,287.5 L551.7,288.3 L553.5,288.4 L555.3,287.8 L557.0,287.6 L558.5,287.8 L559.7,287.2 L560.7,286.4 L561.7,286.2 L562.6,286.6 L563.5,284.8 L564.5,284.3 L565.5,284.8 L566.4,283.6 L567.4,283.4 L568.5,282.7 L569.7,281.9 L571.0,282.5 L572.2,280.5 L573.4,280.3 L574.4,279.3 L575.1,279.4 L575.7,278.0 L576.2,277.5 L576.6,277.5 L577.0,276.2 L577.4,276.0 L577.7,276.1 L577.9,274.2 L578.2,273.7 L578.6,273.9 L579.0,274.9 L579.5,274.8 L580.1,274.5 L580.6,275.2 L581.1,275.8 L581.6,277.5 L582.1,278.3 L582.5,281.1 L583.0,283.3 L583.6,285.3 L584.2,286.9 L584.9,289.6 L585.5,290.1 L586.2,292.8 L586.9,295.8 L587.5,297.0 L588.1,297.7 L588.7,299.9 L589.4,300.3 L590.3,301.0 L591.4,301.7 L592.7,302.3 L594.1,302.7 L595.5,303.0 L597.0,303.3 L598.4,303.5 L599.8,303.5 L601.2,303.5 L602.9,303.5 L605.0,303.5 L607.8,303.5 L611.2,303.5 L614.7,303.5 L617.8,303.5 L620.0,303.5" fill="none" stroke="#ff7f0e" stroke-width="1.3" stroke-linejoin="round"/>
<path d="M494.3,303.4 L494.8,303.4 L495.3,303.4 L495.8,303.4 L496.3,303.4 L496.8,303.4 L497.3,303.4 L497.8,303.4 L498.3,303.4 L498.8,303.4 L499.3,303.4 L499.8,303.4 L500.3,303.4 L500.8,303.4 L501.3,303.4 L501.8,303.4 L502.3,303.4 L502.8,303.4 L503.3,303.4 L503.8,303.4 L504.3,303.4 L504.8,303.4 L505.3,303.4 L505.8,303.4 L506.3,303.4 L506.8,303.4 L507.3,303.4 L507.8,303.4 L508.3,303.4 L508.8,303.4 L509.3,303.4 L509.8,303.4 L510.3,303.4 L510.8,303.4 L511.3,303.4 L511.8,303.4 L512.3,303.4 L512.8,303.4 L513.3,303.4 L513.8,303.4 L514.3,303.4 L514.8,303.4 L515.3,303.4 L515.8,303.4 L516.3,303.4 L516.8,303.4 L517.3,303.4 L517.8,303.4 L518.3,303.4 L518.8,303.4 L519.3,303.4 L519.8,303.4 L520.3,303.4 L520.8,303.4 L521.3,303.4 L521.8,303.4 L522.3,303.4 L522.8,303.4 L523.3,303.4 L523.8,303.4 L524.3,303.4 L524.8,303.4 L525.3,303.4 L525.8,303.4 L526.3,303.4 L526.8,303.4 L527.3,303.4 L527.8,303.4 L528.3,303.4 L528.8,303.4 L529.3,303.4 L529.8,303.4 L530.3,303.4 L530.8,303.4 L531.3,303.4 L531.8,303.4 L532.3,303.4 L532.8,303.4 L533.3,303.4 L533.8,303.4 L534.3,303.4 L534.8,303.4 L535.3,303.4 L535.8,303.4 L536.3,303.4 L536.8,303.4 L537.3,303.4 L537.8,303.4 L538.3,303.4 L538.8,303.4 L539.3,303.4 L539.8,303.4 L540.3,303.4 L540.8,303.4 L541.3,303.4 L541.8,303.4 L542.3,303.4 L542.8,303.4 L543.3,303.4 L543.8,303.4 L544.3,303.4 L544.8,303.4 L545.3,303.4 L545.8,303.4 L546.3,303.4 L546.8,303.4 L547.3,303.4 L547.8,303.4 L548.3,303.4 L548.8,303.4 L549.3,303.4 L549.8,303.4 L550.3,303.4 L550.8,303.4 L551.3,303.4 L551.8,303.4 L552.3,303.4 L552.8,303.4 L553.3,303.4 L553.8,303.4 L554.3,303.4 L554.8,303.4 L555.3,303.4 L555.8,303.4 L556.3,303.4 L556.8,303.4 L557.3,303.4 L557.8,303.4 L558.3,303.4 L558.8,303.4 L559.3,303.4 L559.8,303.4 L560.3,303.4 L560.8,303.4 L561.3,303.4 L561.8,303.4 L562.3,303.4 L562.8,303.4 L563.3,303.4 L563.8,303.4 L564.3,303.4 L564.8,303.4 L565.3,303.4 L565.8,303.4 L566.3,303.4 L566.8,303.4 L567.3,303.3 L567.8,303.3 L568.3,303.3 L568.8,303.2 L569.3,303.0 L569.8,302.8 L570.3,302.5 L570.8,302.1 L571.3,301.5 L571.8,300.6 L572.3,299.5 L572.8,297.9 L573.3,296.0 L573.8,293.5 L574.3,290.4 L574.8,286.6 L575.3,282.1 L575.8,277.0 L576.3,271.1 L576.8,264.8 L577.3,257.9 L577.8,250.9 L578.3,243.8 L578.8,237.0 L579.3,230.8 L579.8,225.5 L580.3,221.2 L580.8,218.3 L581.3,216.9 L581.8,217.1 L582.3,218.8 L582.8,222.0 L583.3,226.5 L583.8,232.0 L584.3,238.4 L584.8,245.2 L585.3,252.3 L585.8,259.3 L586.3,266.1 L586.8,272.4 L587.3,278.1 L587.8,283.1 L588.3,287.4 L588.8,291.0 L589.3,294.0 L589.8,296.4 L590.3,298.3 L590.8,299.7 L591.3,300.8 L591.8,301.6 L592.3,302.2 L592.8,302.6 L593.3,302.9 L593.8,303.1 L594.3,303.2 L594.8,303.3 L595.3,303.3 L595.8,303.4 L596.3,303.4 L596.8,303.4 L597.3,303.4 L597.8,303.4 L598.3,303.4 L598.8,303.4 L599.3,303.4 L599.8,303.4 L600.3,303.4 L600.8,303.4 L601.3,303.4 L601.8,303.4 L602.3,303.4 L602.8,303.4 L603.3,303.4 L603.8,303.4 L604.3,303.4 L604.8,303.4 L605.3,303.4 L605.8,303.4 L606.3,303.4 L606.8,303.4 L607.3,303.4 L607.8,303.4 L608.3,303.4 L608.8,303.4 L609.3,303.4 L609.8,303.4 L610.3,303.4 L610.8,303.4 L611.3,303.4 L611.8,303.4 L612.3,303.4 L612.8,303.4 L613.3,303.4 L613.8,303.4 L614.3,303.4 L614.8,303.4 L615.3,303.4 L615.8,303.4 L616.3,303.4 L616.8,303.4 L617.3,303.4 L617.8,303.4 L618.3,303.4 L618.8,303.4" fill="none" stroke="#1f77b4" stroke-width="1.3" stroke-linejoin="round"/>
</g>
<rect x="494.30" y="211.60" width="123.20" height="91.80" fill="none" stroke="#262626" stroke-width="1"/>
<line x1="494.90" y1="211.60" x2="494.90" y2="302.90" stroke="#ff7f0e" stroke-width="1.0"/>
<line x1="491.10" y1="8.50" x2="494.30" y2="8.50" stroke="#262626" stroke-width="1"/>
<text transform="translate(476.70,12.64) scale(0.965,1)" x="-0.00" y="0" font-size="11.48" font-weight="normal" font-style="normal" fill="#000" stroke="#000" stroke-width="0.2" >10</text>
<line x1="491.10" y1="31.57" x2="494.30" y2="31.57" stroke="#262626" stroke-width="1"/>
<text transform="translate(483.00,35.71) scale(0.929,1)" x="-0.00" y="0" font-size="11.64" font-weight="normal" font-style="normal" fill="#000" stroke="#000" stroke-width="0.2" >5</text>
<line x1="491.10" y1="54.65" x2="494.30" y2="54.65" stroke="#262626" stroke-width="1"/>
<text transform="translate(483.00,58.79) scale(0.942,1)" x="-0.00" y="0" font-size="11.48" font-weight="normal" font-style="normal" fill="#000" stroke="#000" stroke-width="0.2" >0</text>
<line x1="491.10" y1="77.72" x2="494.30" y2="77.72" stroke="#262626" stroke-width="1"/>
<text transform="translate(473.90,81.86) scale(1.138,1)" x="-0.00" y="0" font-size="11.64" font-weight="normal" font-style="normal" fill="#000" stroke="#000" stroke-width="0.2" >−5</text>
<line x1="491.10" y1="100.80" x2="494.30" y2="100.80" stroke="#262626" stroke-width="1"/>
<text transform="translate(467.60,104.94) scale(1.100,1)" x="-0.00" y="0" font-size="11.48" font-weight="normal" font-style="normal" fill="#000" stroke="#000" stroke-width="0.2" >−10</text>
<text transform="translate(460.84,85.20) rotate(-90) scale(0.962,1)" x="-0.00" y="0" font-size="15.65" font-weight="normal" font-style="italic" fill="#000" stroke="#000" stroke-width="0.2" >θ</text>
<text transform="translate(462.80,77.00) rotate(-90) scale(1.039,1)" x="0.08" y="0" font-size="8.30" font-weight="normal" font-style="italic" fill="#000" stroke="#000" stroke-width="0.2" >z</text>
<text transform="translate(458.78,70.70) rotate(-90) scale(1.243,1)" x="-0.00" y="0" font-size="12.94" font-weight="normal" font-style="normal" fill="#000" stroke="#000" stroke-width="0.2" >[mrad]</text>
<line x1="491.10" y1="109.60" x2="494.30" y2="109.60" stroke="#262626" stroke-width="1"/>
<text transform="translate(476.70,113.74) scale(0.965,1)" x="-0.00" y="0" font-size="11.48" font-weight="normal" font-style="normal" fill="#000" stroke="#000" stroke-width="0.2" >10</text>
<line x1="491.10" y1="132.78" x2="494.30" y2="132.78" stroke="#262626" stroke-width="1"/>
<text transform="translate(483.00,136.91) scale(0.929,1)" x="-0.00" y="0" font-size="11.64" font-weight="normal" font-style="normal" fill="#000" stroke="#000" stroke-width="0.2" >5</text>
<line x1="491.10" y1="155.95" x2="494.30" y2="155.95" stroke="#262626" stroke-width="1"/>
<text transform="translate(483.00,160.09) scale(0.942,1)" x="-0.00" y="0" font-size="11.48" font-weight="normal" font-style="normal" fill="#000" stroke="#000" stroke-width="0.2" >0</text>
<line x1="491.10" y1="179.12" x2="494.30" y2="179.12" stroke="#262626" stroke-width="1"/>
<text transform="translate(473.90,183.26) scale(1.138,1)" x="-0.00" y="0" font-size="11.64" font-weight="normal" font-style="normal" fill="#000" stroke="#000" stroke-width="0.2" >−5</text>
<line x1="491.10" y1="202.30" x2="494.30" y2="202.30" stroke="#262626" stroke-width="1"/>
<text transform="translate(467.60,206.44) scale(1.100,1)" x="-0.00" y="0" font-size="11.48" font-weight="normal" font-style="normal" fill="#000" stroke="#000" stroke-width="0.2" >−10</text>
<text transform="translate(460.84,186.30) rotate(-90) scale(0.962,1)" x="-0.00" y="0" font-size="15.65" font-weight="normal" font-style="italic" fill="#000" stroke="#000" stroke-width="0.2" >θ</text>
<text transform="translate(462.80,178.10) rotate(-90) scale(1.039,1)" x="0.08" y="0" font-size="8.30" font-weight="normal" font-style="italic" fill="#000" stroke="#000" stroke-width="0.2" >z</text>
<text transform="translate(458.78,171.80) rotate(-90) scale(1.243,1)" x="-0.00" y="0" font-size="12.94" font-weight="normal" font-style="normal" fill="#000" stroke="#000" stroke-width="0.2" >[mrad]</text>
<line x1="491.10" y1="303.40" x2="494.30" y2="303.40" stroke="#262626" stroke-width="1"/>
<text transform="translate(472.20,307.29) scale(1.060,1)" x="-0.00" y="0" font-size="11.13" font-weight="normal" font-style="normal" fill="#000" stroke="#000" stroke-width="0.2" >0.0</text>
<line x1="491.10" y1="280.45" x2="494.30" y2="280.45" stroke="#262626" stroke-width="1"/>
<text transform="translate(472.20,284.34) scale(1.060,1)" x="-0.00" y="0" font-size="11.13" font-weight="normal" font-style="normal" fill="#000" stroke="#000" stroke-width="0.2" >0.5</text>
<line x1="491.10" y1="257.50" x2="494.30" y2="257.50" stroke="#262626" stroke-width="1"/>
<text transform="translate(472.20,261.39) scale(1.060,1)" x="-0.00" y="0" font-size="11.13" font-weight="normal" font-style="normal" fill="#000" stroke="#000" stroke-width="0.2" >1.0</text>
<line x1="491.10" y1="234.55" x2="494.30" y2="234.55" stroke="#262626" stroke-width="1"/>
<text transform="translate(472.20,238.44) scale(1.045,1)" x="-0.00" y="0" font-size="11.29" font-weight="normal" font-style="normal" fill="#000" stroke="#000" stroke-width="0.2" >1.5</text>
<line x1="491.10" y1="211.60" x2="494.30" y2="211.60" stroke="#262626" stroke-width="1"/>
<text transform="translate(472.20,215.49) scale(1.060,1)" x="-0.00" y="0" font-size="11.13" font-weight="normal" font-style="normal" fill="#000" stroke="#000" stroke-width="0.2" >2.0</text>
<line x1="494.30" y1="303.40" x2="494.30" y2="306.60" stroke="#262626" stroke-width="1"/>
<text transform="translate(491.15,317.79) scale(1.007,1)" x="-0.00" y="0" font-size="11.27" font-weight="normal" font-style="normal" fill="#000" stroke="#000" stroke-width="0.2" >0</text>
<line x1="529.03" y1="303.40" x2="529.03" y2="306.60" stroke="#262626" stroke-width="1"/>
<text transform="translate(519.13,317.79) scale(1.052,1)" x="-0.00" y="0" font-size="11.27" font-weight="normal" font-style="normal" fill="#000" stroke="#000" stroke-width="0.2" >100</text>
<line x1="563.77" y1="303.40" x2="563.77" y2="306.60" stroke="#262626" stroke-width="1"/>
<text transform="translate(553.87,317.79) scale(1.052,1)" x="-0.00" y="0" font-size="11.27" font-weight="normal" font-style="normal" fill="#000" stroke="#000" stroke-width="0.2" >200</text>
<line x1="598.50" y1="303.40" x2="598.50" y2="306.60" stroke="#262626" stroke-width="1"/>
<text transform="translate(588.60,317.79) scale(1.052,1)" x="-0.00" y="0" font-size="11.27" font-weight="normal" font-style="normal" fill="#000" stroke="#000" stroke-width="0.2" >300</text>
<text transform="translate(529.10,332.80) scale(1.034,1)" x="-0.00" y="0" font-size="14.00" fill="#000" stroke="#000" stroke-width="0.2" ><tspan font-style="italic" font-size="14.00" dy="0.00">E</tspan><tspan font-style="normal" font-size="14.00" dy="0.00"> [MeV]</tspan></text>
<text transform="translate(453.26,296.00) rotate(-90) scale(1.000,1)" x="-0.00" y="0" font-size="8.09" font-weight="normal" font-style="normal" fill="#000" stroke="#000" stroke-width="0.2" >dQ</text>
<text transform="translate(464.80,296.00) rotate(-90) scale(0.876,1)" x="-0.00" y="0" font-size="10.07" font-weight="normal" font-style="normal" fill="#000" stroke="#000" stroke-width="0.2" >dE</text>
<line x1="456.10" y1="284.80" x2="456.10" y2="296.40" stroke="#000" stroke-width="0.8"/>
<text transform="translate(461.17,281.20) rotate(-90) scale(1.107,1)" x="-0.00" y="0" font-size="13.48" font-weight="normal" font-style="normal" fill="#000" stroke="#000" stroke-width="0.2" >[pC/MeV]</text>
<text transform="translate(498.60,22.48) scale(1.089,1)" x="-0.00" y="0" font-size="11.97" font-weight="normal" font-style="normal" fill="#1f77b4" stroke="#1f77b4" stroke-width="0.2" >before PWFA</text>
<text transform="translate(498.00,125.27) scale(1.012,1)" x="-0.00" y="0" font-size="13.33" font-weight="normal" font-style="normal" fill="#ff7f0e" stroke="#ff7f0e" stroke-width="0.2" >after PWFA</text>
<text transform="translate(589.70,234.46) scale(0.986,1)" x="-0.00" y="0" font-size="14.08" font-weight="normal" font-style="normal" fill="#1f77b4" stroke="#1f77b4" stroke-width="0.2" >: 10</text>
<defs><linearGradient id="gb" x1="0" y1="1" x2="0" y2="0"><stop offset="0.0" stop-color="#f4f4fa"/><stop offset="0.046" stop-color="#c8c8e0"/><stop offset="0.097" stop-color="#9898c0"/><stop offset="0.147" stop-color="#6868a8"/><stop offset="0.2" stop-color="#404090"/><stop offset="0.25" stop-color="#1c1c78"/><stop offset="0.316" stop-color="#402868"/><stop offset="0.37" stop-color="#703048"/><stop offset="0.42" stop-color="#a03838"/><stop offset="0.47" stop-color="#d04028"/><stop offset="0.503" stop-color="#f04810"/><stop offset="0.554" stop-color="#ff6000"/><stop offset="0.605" stop-color="#ff8000"/><stop offset="0.655" stop-color="#ff9800"/><stop offset="0.706" stop-color="#ffb000"/><stop offset="0.757" stop-color="#ffc800"/><stop offset="0.81" stop-color="#ffd820"/><stop offset="0.876" stop-color="#ffe060"/><stop offset="0.94" stop-color="#fff0a0"/><stop offset="1.0" stop-color="#fffce8"/></linearGradient></defs>
<rect x="619.5" y="8.3" width="9.299999999999955" height="295.2" fill="url(#gb)" stroke="#262626" stroke-width="1"/>
<line x1="628.80" y1="303.50" x2="632.00" y2="303.50" stroke="#262626" stroke-width="1"/>
<text transform="translate(634.40,307.39) scale(1.067,1)" x="-0.00" y="0" font-size="11.13" font-weight="normal" font-style="normal" fill="#000" stroke="#000" stroke-width="0.2" >0.0</text>
<line x1="628.80" y1="244.46" x2="632.00" y2="244.46" stroke="#262626" stroke-width="1"/>
<text transform="translate(634.40,248.35) scale(1.067,1)" x="-0.00" y="0" font-size="11.13" font-weight="normal" font-style="normal" fill="#000" stroke="#000" stroke-width="0.2" >0.2</text>
<line x1="628.80" y1="185.42" x2="632.00" y2="185.42" stroke="#262626" stroke-width="1"/>
<text transform="translate(634.40,189.31) scale(1.067,1)" x="-0.00" y="0" font-size="11.13" font-weight="normal" font-style="normal" fill="#000" stroke="#000" stroke-width="0.2" >0.4</text>
<line x1="628.80" y1="126.38" x2="632.00" y2="126.38" stroke="#262626" stroke-width="1"/>
<text transform="translate(634.40,130.27) scale(1.067,1)" x="-0.00" y="0" font-size="11.13" font-weight="normal" font-style="normal" fill="#000" stroke="#000" stroke-width="0.2" >0.6</text>
<line x1="628.80" y1="67.34" x2="632.00" y2="67.34" stroke="#262626" stroke-width="1"/>
<text transform="translate(634.40,71.23) scale(1.067,1)" x="-0.00" y="0" font-size="11.13" font-weight="normal" font-style="normal" fill="#000" stroke="#000" stroke-width="0.2" >0.8</text>
<line x1="628.80" y1="8.30" x2="632.00" y2="8.30" stroke="#262626" stroke-width="1"/>
<text transform="translate(634.40,12.19) scale(1.067,1)" x="-0.00" y="0" font-size="11.13" font-weight="normal" font-style="normal" fill="#000" stroke="#000" stroke-width="0.2" >1.0</text>
<text transform="translate(665.00,241.10) rotate(-90) scale(1.103,1)" x="-0.00" y="0" font-size="14.00" fill="#000" stroke="#000" stroke-width="0.2" ><tspan font-style="normal" font-size="14.00" dy="0.00">d</tspan><tspan font-style="italic" font-size="14.00" dy="0.00">Q</tspan><tspan font-style="normal" font-size="14.00" dy="0.00">/d</tspan><tspan font-style="italic" font-size="14.00" dy="0.00">E</tspan><tspan font-style="normal" font-size="14.00" dy="0.00">d</tspan><tspan font-style="italic" font-size="14.00" dy="0.00">θ</tspan></text>
<text transform="translate(664.93,175.10) rotate(-90) scale(1.199,1)" x="-0.00" y="0" font-size="12.73" font-weight="normal" font-style="normal" fill="#000" stroke="#000" stroke-width="0.2" >[pC/MeV/mrad]</text>
<text transform="translate(1.40,13.37) scale(0.925,1)" x="-0.00" y="0" font-size="18.72" font-weight="bold" font-style="normal" fill="#000"  stroke="#000" stroke-width="0.9">(</text>
<text transform="translate(10.30,14.61) scale(1.038,1)" x="-0.00" y="0" font-size="19.27" font-weight="bold" font-style="normal" fill="#000"  stroke="#000" stroke-width="0.6">a</text>
<text transform="translate(25.40,13.37) scale(0.941,1)" x="-0.00" y="0" font-size="18.72" font-weight="bold" font-style="normal" fill="#000"  stroke="#000" stroke-width="0.9">)</text>
<text transform="translate(446.10,14.14) scale(0.834,1)" x="-0.00" y="0" font-size="16.47" font-weight="bold" font-style="normal" fill="#000"  stroke="#000" stroke-width="0.8">(</text>
<text transform="translate(454.30,14.84) scale(1.026,1)" x="-0.00" y="0" font-size="16.46" font-weight="bold" font-style="normal" fill="#000"  stroke="#000" stroke-width="0.6">b</text>
<text transform="translate(467.40,14.14) scale(0.906,1)" x="-0.00" y="0" font-size="16.47" font-weight="bold" font-style="normal" fill="#000"  stroke="#000" stroke-width="0.8">)</text>
</svg></body></html>
